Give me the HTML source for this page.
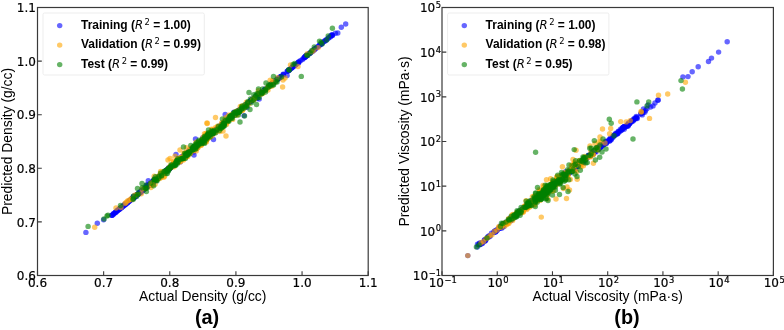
<!DOCTYPE html>
<html lang="en"><head><meta charset="utf-8"><title>Parity plots</title>
<style>html,body{margin:0;padding:0;background:#fff}svg{display:block}</style></head>
<body>
<svg width="784" height="330" viewBox="0 0 784 330">
<rect width="784" height="330" fill="#fff"/>
<g fill="#0000ff" fill-opacity="0.6"><circle cx="85.9" cy="232.4" r="2.72"/><circle cx="97.3" cy="223.2" r="2.72"/><circle cx="345.7" cy="24.0" r="2.72"/><circle cx="341.3" cy="27.2" r="2.72"/><circle cx="335.4" cy="33.2" r="2.72"/><circle cx="337.8" cy="33.0" r="2.72"/><circle cx="332.5" cy="35.5" r="2.72"/><circle cx="103.6" cy="219.7" r="2.72"/><circle cx="249.8" cy="101.7" r="2.72"/><circle cx="310.2" cy="52.8" r="2.72"/><circle cx="283.2" cy="74.2" r="2.72"/><circle cx="161.0" cy="175.4" r="2.72"/><circle cx="177.6" cy="161.3" r="2.72"/><circle cx="304.9" cy="57.2" r="2.72"/><circle cx="112.2" cy="215.2" r="2.72"/><circle cx="293.3" cy="66.6" r="2.72"/><circle cx="287.9" cy="71.1" r="2.72"/><circle cx="214.9" cy="130.5" r="2.72"/><circle cx="178.3" cy="161.3" r="2.72"/><circle cx="172.8" cy="165.3" r="2.72"/><circle cx="167.6" cy="169.9" r="2.72"/><circle cx="209.8" cy="134.6" r="2.72"/><circle cx="223.0" cy="124.0" r="2.72"/><circle cx="233.9" cy="112.1" r="2.72"/><circle cx="332.0" cy="34.9" r="2.72"/><circle cx="287.0" cy="71.4" r="2.72"/><circle cx="249.1" cy="102.3" r="2.72"/><circle cx="330.5" cy="36.2" r="2.72"/><circle cx="158.8" cy="177.1" r="2.72"/><circle cx="146.6" cy="184.9" r="2.72"/><circle cx="247.0" cy="107.2" r="2.72"/><circle cx="120.8" cy="208.0" r="2.72"/><circle cx="118.9" cy="209.3" r="2.72"/><circle cx="225.3" cy="121.7" r="2.72"/><circle cx="214.5" cy="130.6" r="2.72"/><circle cx="314.6" cy="49.1" r="2.72"/><circle cx="250.7" cy="101.0" r="2.72"/><circle cx="225.1" cy="122.1" r="2.72"/><circle cx="221.3" cy="125.1" r="2.72"/><circle cx="165.9" cy="171.2" r="2.72"/><circle cx="113.6" cy="214.3" r="2.72"/><circle cx="153.7" cy="181.3" r="2.72"/><circle cx="264.6" cy="89.7" r="2.72"/><circle cx="155.5" cy="180.0" r="2.72"/><circle cx="193.0" cy="148.5" r="2.72"/><circle cx="111.8" cy="215.2" r="2.72"/><circle cx="295.3" cy="64.7" r="2.72"/><circle cx="145.3" cy="187.7" r="2.72"/><circle cx="170.4" cy="167.3" r="2.72"/><circle cx="306.4" cy="55.8" r="2.72"/><circle cx="224.2" cy="123.0" r="2.72"/><circle cx="299.1" cy="61.8" r="2.72"/><circle cx="253.0" cy="99.1" r="2.72"/><circle cx="275.7" cy="80.7" r="2.72"/><circle cx="131.3" cy="199.5" r="2.72"/><circle cx="231.1" cy="117.1" r="2.72"/><circle cx="223.7" cy="123.0" r="2.72"/><circle cx="304.4" cy="57.4" r="2.72"/><circle cx="191.2" cy="150.0" r="2.72"/><circle cx="243.8" cy="106.8" r="2.72"/><circle cx="124.2" cy="205.2" r="2.72"/><circle cx="197.1" cy="145.1" r="2.72"/><circle cx="182.7" cy="157.0" r="2.72"/><circle cx="144.3" cy="189.1" r="2.72"/><circle cx="292.2" cy="67.4" r="2.72"/><circle cx="195.2" cy="146.9" r="2.72"/><circle cx="328.3" cy="37.9" r="2.72"/><circle cx="242.0" cy="108.0" r="2.72"/><circle cx="245.3" cy="105.5" r="2.72"/><circle cx="252.6" cy="99.5" r="2.72"/><circle cx="261.2" cy="92.6" r="2.72"/><circle cx="144.5" cy="188.8" r="2.72"/><circle cx="208.7" cy="135.7" r="2.72"/><circle cx="164.2" cy="172.6" r="2.72"/><circle cx="200.4" cy="142.3" r="2.72"/><circle cx="132.5" cy="198.1" r="2.72"/><circle cx="325.9" cy="40.0" r="2.72"/><circle cx="158.7" cy="176.8" r="2.72"/><circle cx="260.1" cy="93.8" r="2.72"/><circle cx="177.7" cy="161.3" r="2.72"/><circle cx="305.0" cy="56.8" r="2.72"/><circle cx="258.0" cy="95.0" r="2.72"/><circle cx="140.2" cy="192.3" r="2.72"/><circle cx="298.6" cy="62.7" r="2.72"/><circle cx="320.8" cy="44.4" r="2.72"/><circle cx="311.7" cy="51.7" r="2.72"/><circle cx="237.5" cy="111.7" r="2.72"/><circle cx="143.3" cy="189.9" r="2.72"/><circle cx="153.7" cy="181.3" r="2.72"/><circle cx="317.0" cy="47.3" r="2.72"/><circle cx="233.6" cy="114.9" r="2.72"/><circle cx="151.1" cy="183.4" r="2.72"/><circle cx="307.3" cy="55.1" r="2.72"/><circle cx="253.4" cy="99.4" r="2.72"/><circle cx="237.5" cy="111.8" r="2.72"/><circle cx="194.5" cy="147.6" r="2.72"/><circle cx="202.2" cy="141.1" r="2.72"/><circle cx="164.2" cy="172.8" r="2.72"/><circle cx="119.4" cy="209.0" r="2.72"/><circle cx="305.5" cy="56.2" r="2.72"/><circle cx="214.8" cy="130.2" r="2.72"/><circle cx="232.6" cy="115.9" r="2.72"/><circle cx="182.5" cy="157.3" r="2.72"/><circle cx="277.8" cy="79.1" r="2.72"/><circle cx="116.6" cy="211.8" r="2.72"/><circle cx="193.6" cy="152.1" r="2.72"/><circle cx="117.7" cy="210.6" r="2.72"/><circle cx="138.3" cy="193.9" r="2.72"/><circle cx="325.7" cy="40.5" r="2.72"/><circle cx="257.0" cy="96.1" r="2.72"/><circle cx="206.1" cy="138.0" r="2.72"/><circle cx="227.3" cy="120.4" r="2.72"/><circle cx="304.8" cy="57.5" r="2.72"/><circle cx="187.4" cy="153.4" r="2.72"/><circle cx="242.0" cy="107.9" r="2.72"/><circle cx="262.8" cy="91.2" r="2.72"/><circle cx="189.9" cy="151.4" r="2.72"/><circle cx="226.2" cy="121.1" r="2.72"/><circle cx="280.9" cy="76.6" r="2.72"/><circle cx="312.8" cy="51.1" r="2.72"/><circle cx="144.5" cy="188.6" r="2.72"/><circle cx="318.2" cy="46.5" r="2.72"/><circle cx="112.1" cy="215.3" r="2.72"/><circle cx="278.2" cy="78.3" r="2.72"/><circle cx="290.9" cy="68.6" r="2.72"/><circle cx="141.4" cy="191.4" r="2.72"/><circle cx="204.0" cy="139.7" r="2.72"/><circle cx="292.0" cy="67.4" r="2.72"/><circle cx="114.2" cy="213.4" r="2.72"/><circle cx="250.5" cy="101.5" r="2.72"/><circle cx="287.1" cy="75.6" r="2.72"/><circle cx="224.9" cy="122.3" r="2.72"/><circle cx="272.1" cy="83.3" r="2.72"/><circle cx="161.3" cy="175.3" r="2.72"/><circle cx="155.1" cy="180.0" r="2.72"/><circle cx="191.6" cy="151.5" r="2.72"/><circle cx="150.8" cy="184.0" r="2.72"/><circle cx="187.8" cy="153.4" r="2.72"/><circle cx="321.5" cy="43.7" r="2.72"/><circle cx="238.3" cy="111.1" r="2.72"/><circle cx="186.5" cy="154.1" r="2.72"/><circle cx="171.3" cy="167.1" r="2.72"/><circle cx="322.4" cy="43.1" r="2.72"/><circle cx="209.7" cy="134.8" r="2.72"/><circle cx="328.6" cy="38.0" r="2.72"/><circle cx="225.4" cy="121.6" r="2.72"/><circle cx="226.7" cy="120.3" r="2.72"/><circle cx="310.0" cy="53.2" r="2.72"/><circle cx="275.9" cy="80.1" r="2.72"/><circle cx="239.9" cy="110.0" r="2.72"/><circle cx="205.7" cy="138.1" r="2.72"/><circle cx="306.0" cy="56.3" r="2.72"/><circle cx="202.4" cy="140.7" r="2.72"/><circle cx="315.9" cy="48.3" r="2.72"/><circle cx="126.3" cy="203.6" r="2.72"/><circle cx="206.5" cy="137.5" r="2.72"/><circle cx="226.3" cy="120.9" r="2.72"/><circle cx="322.1" cy="43.1" r="2.72"/><circle cx="166.7" cy="170.5" r="2.72"/><circle cx="289.9" cy="69.1" r="2.72"/><circle cx="261.2" cy="92.3" r="2.72"/><circle cx="270.2" cy="85.4" r="2.72"/><circle cx="250.8" cy="101.1" r="2.72"/><circle cx="326.7" cy="39.6" r="2.72"/><circle cx="184.9" cy="155.6" r="2.72"/><circle cx="199.4" cy="143.5" r="2.72"/><circle cx="156.0" cy="179.4" r="2.72"/><circle cx="122.3" cy="206.7" r="2.72"/><circle cx="158.3" cy="177.7" r="2.72"/><circle cx="314.2" cy="49.5" r="2.72"/><circle cx="297.5" cy="63.2" r="2.72"/><circle cx="136.0" cy="195.2" r="2.72"/><circle cx="245.0" cy="105.6" r="2.72"/><circle cx="217.4" cy="128.3" r="2.72"/><circle cx="243.0" cy="107.5" r="2.72"/><circle cx="257.4" cy="95.8" r="2.72"/><circle cx="179.1" cy="160.2" r="2.72"/><circle cx="324.4" cy="41.4" r="2.72"/><circle cx="214.4" cy="130.9" r="2.72"/><circle cx="250.4" cy="101.0" r="2.72"/><circle cx="252.0" cy="100.1" r="2.72"/><circle cx="151.8" cy="183.0" r="2.72"/><circle cx="124.7" cy="204.8" r="2.72"/><circle cx="202.4" cy="141.0" r="2.72"/><circle cx="280.6" cy="76.7" r="2.72"/><circle cx="292.0" cy="67.6" r="2.72"/><circle cx="273.1" cy="83.1" r="2.72"/><circle cx="136.1" cy="196.0" r="2.72"/><circle cx="313.8" cy="49.9" r="2.72"/><circle cx="289.1" cy="70.1" r="2.72"/><circle cx="305.8" cy="56.3" r="2.72"/><circle cx="227.2" cy="120.6" r="2.72"/><circle cx="314.3" cy="49.7" r="2.72"/><circle cx="121.4" cy="207.5" r="2.72"/><circle cx="117.7" cy="210.3" r="2.72"/><circle cx="115.5" cy="212.1" r="2.72"/><circle cx="167.1" cy="169.9" r="2.72"/><circle cx="166.2" cy="171.0" r="2.72"/><circle cx="152.6" cy="182.0" r="2.72"/><circle cx="236.9" cy="112.2" r="2.72"/><circle cx="119.7" cy="209.0" r="2.72"/><circle cx="242.1" cy="108.1" r="2.72"/><circle cx="147.9" cy="186.2" r="2.72"/><circle cx="261.5" cy="92.1" r="2.72"/><circle cx="115.7" cy="212.2" r="2.72"/><circle cx="179.9" cy="159.7" r="2.72"/><circle cx="319.3" cy="45.5" r="2.72"/><circle cx="230.5" cy="117.1" r="2.72"/><circle cx="291.2" cy="68.5" r="2.72"/><circle cx="257.1" cy="98.5" r="2.72"/><circle cx="246.6" cy="104.1" r="2.72"/><circle cx="153.5" cy="181.8" r="2.72"/><circle cx="238.5" cy="110.6" r="2.72"/><circle cx="119.8" cy="208.9" r="2.72"/><circle cx="289.0" cy="70.0" r="2.72"/><circle cx="324.1" cy="41.3" r="2.72"/><circle cx="300.6" cy="60.4" r="2.72"/><circle cx="122.3" cy="206.7" r="2.72"/><circle cx="186.2" cy="154.4" r="2.72"/><circle cx="181.6" cy="158.2" r="2.72"/><circle cx="136.0" cy="195.7" r="2.72"/><circle cx="250.1" cy="101.2" r="2.72"/><circle cx="288.0" cy="70.7" r="2.72"/><circle cx="180.6" cy="158.7" r="2.72"/><circle cx="302.5" cy="59.5" r="2.72"/><circle cx="288.0" cy="70.9" r="2.72"/><circle cx="139.7" cy="192.7" r="2.72"/><circle cx="281.2" cy="76.4" r="2.72"/><circle cx="306.9" cy="55.0" r="2.72"/><circle cx="154.8" cy="180.7" r="2.72"/><circle cx="238.3" cy="110.9" r="2.72"/><circle cx="252.8" cy="99.2" r="2.72"/><circle cx="246.3" cy="104.8" r="2.72"/><circle cx="132.4" cy="198.5" r="2.72"/><circle cx="257.8" cy="95.2" r="2.72"/><circle cx="251.3" cy="100.0" r="2.72"/><circle cx="293.9" cy="65.7" r="2.72"/><circle cx="289.4" cy="69.7" r="2.72"/><circle cx="183.6" cy="156.3" r="2.72"/><circle cx="271.3" cy="84.3" r="2.72"/><circle cx="303.5" cy="58.3" r="2.72"/><circle cx="309.2" cy="53.5" r="2.72"/><circle cx="146.9" cy="186.8" r="2.72"/><circle cx="116.9" cy="210.8" r="2.72"/><circle cx="255.5" cy="97.4" r="2.72"/><circle cx="158.7" cy="177.5" r="2.72"/><circle cx="236.1" cy="113.0" r="2.72"/><circle cx="320.7" cy="44.1" r="2.72"/><circle cx="195.2" cy="146.6" r="2.72"/><circle cx="167.1" cy="170.2" r="2.72"/><circle cx="212.3" cy="132.6" r="2.72"/><circle cx="256.9" cy="96.0" r="2.72"/><circle cx="133.4" cy="198.1" r="2.72"/><circle cx="195.5" cy="146.8" r="2.72"/><circle cx="140.7" cy="191.7" r="2.72"/><circle cx="258.1" cy="94.9" r="2.72"/><circle cx="295.4" cy="64.6" r="2.72"/><circle cx="194.7" cy="146.2" r="2.72"/><circle cx="193.5" cy="148.7" r="2.72"/><circle cx="230.8" cy="117.2" r="2.72"/><circle cx="158.7" cy="177.1" r="2.72"/><circle cx="165.9" cy="171.4" r="2.72"/><circle cx="184.2" cy="155.6" r="2.72"/><circle cx="212.5" cy="132.5" r="2.72"/><circle cx="129.1" cy="201.1" r="2.72"/><circle cx="278.1" cy="78.7" r="2.72"/><circle cx="239.6" cy="109.9" r="2.72"/><circle cx="177.5" cy="161.3" r="2.72"/><circle cx="128.2" cy="202.0" r="2.72"/><circle cx="280.4" cy="76.8" r="2.72"/><circle cx="140.1" cy="192.3" r="2.72"/><circle cx="140.6" cy="192.2" r="2.72"/><circle cx="140.0" cy="192.6" r="2.72"/><circle cx="129.0" cy="201.6" r="2.72"/><circle cx="312.2" cy="51.5" r="2.72"/><circle cx="170.8" cy="167.5" r="2.72"/><circle cx="179.0" cy="160.2" r="2.72"/><circle cx="295.9" cy="64.7" r="2.72"/><circle cx="248.6" cy="102.5" r="2.72"/><circle cx="152.5" cy="182.3" r="2.72"/><circle cx="207.5" cy="136.7" r="2.72"/><circle cx="307.2" cy="55.5" r="2.72"/><circle cx="194.3" cy="147.5" r="2.72"/><circle cx="268.8" cy="86.5" r="2.72"/><circle cx="132.5" cy="198.4" r="2.72"/><circle cx="272.5" cy="83.3" r="2.72"/><circle cx="283.4" cy="74.9" r="2.72"/><circle cx="294.3" cy="65.6" r="2.72"/><circle cx="260.7" cy="93.4" r="2.72"/><circle cx="193.3" cy="148.3" r="2.72"/><circle cx="125.3" cy="204.8" r="2.72"/><circle cx="226.2" cy="121.3" r="2.72"/><circle cx="279.2" cy="77.7" r="2.72"/><circle cx="153.4" cy="181.6" r="2.72"/><circle cx="170.1" cy="167.6" r="2.72"/><circle cx="230.0" cy="118.4" r="2.72"/><circle cx="277.1" cy="79.5" r="2.72"/><circle cx="310.0" cy="53.1" r="2.72"/><circle cx="138.9" cy="193.0" r="2.72"/><circle cx="151.9" cy="182.8" r="2.72"/><circle cx="288.5" cy="70.4" r="2.72"/><circle cx="254.1" cy="98.6" r="2.72"/><circle cx="271.1" cy="84.7" r="2.72"/><circle cx="332.3" cy="34.9" r="2.72"/><circle cx="319.5" cy="45.0" r="2.72"/><circle cx="298.2" cy="62.3" r="2.72"/><circle cx="283.5" cy="74.5" r="2.72"/><circle cx="198.7" cy="144.2" r="2.72"/><circle cx="253.4" cy="99.1" r="2.72"/><circle cx="151.9" cy="182.4" r="2.72"/><circle cx="279.6" cy="77.6" r="2.72"/><circle cx="279.2" cy="78.1" r="2.72"/><circle cx="271.1" cy="84.2" r="2.72"/><circle cx="209.7" cy="134.7" r="2.72"/><circle cx="195.0" cy="146.9" r="2.72"/><circle cx="204.2" cy="139.2" r="2.72"/><circle cx="118.4" cy="209.9" r="2.72"/><circle cx="298.4" cy="62.5" r="2.72"/><circle cx="231.4" cy="117.1" r="2.72"/><circle cx="197.0" cy="147.9" r="2.72"/><circle cx="232.7" cy="115.9" r="2.72"/><circle cx="271.2" cy="84.3" r="2.72"/><circle cx="195.7" cy="146.6" r="2.72"/><circle cx="295.4" cy="64.6" r="2.72"/><circle cx="315.1" cy="48.6" r="2.72"/><circle cx="197.0" cy="145.0" r="2.72"/><circle cx="141.6" cy="190.8" r="2.72"/><circle cx="279.8" cy="78.0" r="2.72"/><circle cx="331.4" cy="35.3" r="2.72"/><circle cx="143.9" cy="189.3" r="2.72"/><circle cx="269.2" cy="86.0" r="2.72"/><circle cx="294.2" cy="65.9" r="2.72"/><circle cx="315.4" cy="48.6" r="2.72"/><circle cx="138.4" cy="193.7" r="2.72"/><circle cx="131.4" cy="199.6" r="2.72"/><circle cx="330.3" cy="36.9" r="2.72"/><circle cx="136.9" cy="194.7" r="2.72"/><circle cx="150.3" cy="184.0" r="2.72"/><circle cx="170.1" cy="167.9" r="2.72"/><circle cx="196.3" cy="146.0" r="2.72"/><circle cx="189.9" cy="151.1" r="2.72"/><circle cx="157.1" cy="178.6" r="2.72"/><circle cx="205.2" cy="138.4" r="2.72"/><circle cx="256.7" cy="96.0" r="2.72"/><circle cx="181.5" cy="156.7" r="2.72"/><circle cx="183.3" cy="156.8" r="2.72"/><circle cx="155.4" cy="180.1" r="2.72"/><circle cx="200.6" cy="142.5" r="2.72"/><circle cx="148.8" cy="185.2" r="2.72"/><circle cx="153.4" cy="181.6" r="2.72"/><circle cx="232.3" cy="115.7" r="2.72"/><circle cx="160.1" cy="175.7" r="2.72"/><circle cx="225.8" cy="121.1" r="2.72"/><circle cx="240.4" cy="109.2" r="2.72"/><circle cx="198.6" cy="144.3" r="2.72"/><circle cx="208.3" cy="135.6" r="2.72"/><circle cx="254.6" cy="97.7" r="2.72"/><circle cx="183.5" cy="157.8" r="2.72"/><circle cx="170.4" cy="167.6" r="2.72"/><circle cx="145.2" cy="188.3" r="2.72"/><circle cx="191.4" cy="150.0" r="2.72"/><circle cx="238.9" cy="110.9" r="2.72"/><circle cx="221.7" cy="124.6" r="2.72"/><circle cx="158.8" cy="177.1" r="2.72"/><circle cx="161.7" cy="174.6" r="2.72"/><circle cx="173.3" cy="165.4" r="2.72"/><circle cx="199.7" cy="142.5" r="2.72"/><circle cx="183.2" cy="156.6" r="2.72"/><circle cx="197.1" cy="145.3" r="2.72"/><circle cx="199.8" cy="143.2" r="2.72"/><circle cx="180.1" cy="159.1" r="2.72"/><circle cx="188.7" cy="152.3" r="2.72"/><circle cx="196.8" cy="145.6" r="2.72"/><circle cx="187.2" cy="153.7" r="2.72"/><circle cx="206.7" cy="137.6" r="2.72"/><circle cx="251.9" cy="100.1" r="2.72"/><circle cx="209.6" cy="134.9" r="2.72"/><circle cx="191.8" cy="149.7" r="2.72"/><circle cx="134.2" cy="197.3" r="2.72"/><circle cx="202.8" cy="137.8" r="2.72"/><circle cx="125.6" cy="203.8" r="2.72"/><circle cx="143.4" cy="189.9" r="2.72"/><circle cx="218.3" cy="127.4" r="2.72"/><circle cx="213.4" cy="131.8" r="2.72"/><circle cx="185.0" cy="155.3" r="2.72"/><circle cx="133.4" cy="197.3" r="2.72"/><circle cx="177.7" cy="161.0" r="2.72"/><circle cx="167.6" cy="169.9" r="2.72"/><circle cx="211.1" cy="133.5" r="2.72"/><circle cx="264.7" cy="89.8" r="2.72"/><circle cx="197.2" cy="145.5" r="2.72"/><circle cx="164.2" cy="172.4" r="2.72"/><circle cx="151.3" cy="183.2" r="2.72"/><circle cx="188.1" cy="152.6" r="2.72"/><circle cx="184.2" cy="155.6" r="2.72"/><circle cx="151.9" cy="182.8" r="2.72"/><circle cx="193.8" cy="147.9" r="2.72"/><circle cx="151.9" cy="182.7" r="2.72"/><circle cx="226.8" cy="121.0" r="2.72"/><circle cx="225.1" cy="122.0" r="2.72"/><circle cx="225.9" cy="121.7" r="2.72"/><circle cx="174.3" cy="164.2" r="2.72"/><circle cx="207.0" cy="139.1" r="2.72"/><circle cx="185.6" cy="155.0" r="2.72"/><circle cx="177.1" cy="161.6" r="2.72"/><circle cx="178.8" cy="160.6" r="2.72"/><circle cx="147.0" cy="186.8" r="2.72"/><circle cx="142.3" cy="190.6" r="2.72"/><circle cx="216.3" cy="129.8" r="2.72"/><circle cx="183.7" cy="156.6" r="2.72"/><circle cx="197.2" cy="145.4" r="2.72"/><circle cx="223.1" cy="123.6" r="2.72"/><circle cx="132.7" cy="198.3" r="2.72"/><circle cx="164.1" cy="172.9" r="2.72"/><circle cx="195.8" cy="146.0" r="2.72"/><circle cx="203.0" cy="141.6" r="2.72"/><circle cx="177.5" cy="161.7" r="2.72"/><circle cx="224.0" cy="122.8" r="2.72"/><circle cx="197.0" cy="145.5" r="2.72"/><circle cx="149.9" cy="184.2" r="2.72"/><circle cx="159.2" cy="176.7" r="2.72"/><circle cx="216.6" cy="129.2" r="2.72"/><circle cx="205.3" cy="138.0" r="2.72"/><circle cx="127.2" cy="202.9" r="2.72"/><circle cx="234.6" cy="114.2" r="2.72"/><circle cx="209.8" cy="134.7" r="2.72"/><circle cx="234.4" cy="114.2" r="2.72"/><circle cx="177.3" cy="161.6" r="2.72"/><circle cx="180.2" cy="161.9" r="2.72"/><circle cx="152.7" cy="182.1" r="2.72"/><circle cx="273.9" cy="82.7" r="2.72"/><circle cx="184.2" cy="156.1" r="2.72"/><circle cx="242.5" cy="107.7" r="2.72"/><circle cx="168.6" cy="168.9" r="2.72"/><circle cx="195.4" cy="146.8" r="2.72"/><circle cx="134.7" cy="196.7" r="2.72"/><circle cx="177.3" cy="161.8" r="2.72"/><circle cx="222.5" cy="124.1" r="2.72"/><circle cx="148.6" cy="185.7" r="2.72"/><circle cx="225.5" cy="121.5" r="2.72"/><circle cx="201.2" cy="141.7" r="2.72"/><circle cx="155.5" cy="180.2" r="2.72"/><circle cx="173.4" cy="165.0" r="2.72"/><circle cx="174.8" cy="163.9" r="2.72"/><circle cx="188.4" cy="152.9" r="2.72"/><circle cx="172.3" cy="166.2" r="2.72"/><circle cx="162.6" cy="174.0" r="2.72"/><circle cx="179.9" cy="159.8" r="2.72"/><circle cx="156.0" cy="179.4" r="2.72"/><circle cx="147.4" cy="186.4" r="2.72"/><circle cx="188.4" cy="152.6" r="2.72"/><circle cx="219.2" cy="126.8" r="2.72"/><circle cx="139.4" cy="192.7" r="2.72"/><circle cx="190.1" cy="151.2" r="2.72"/><circle cx="168.5" cy="168.8" r="2.72"/><circle cx="157.7" cy="177.8" r="2.72"/><circle cx="218.2" cy="127.5" r="2.72"/><circle cx="172.9" cy="165.4" r="2.72"/><circle cx="239.5" cy="110.0" r="2.72"/><circle cx="164.2" cy="172.8" r="2.72"/><circle cx="202.8" cy="140.4" r="2.72"/><circle cx="182.5" cy="157.3" r="2.72"/><circle cx="165.1" cy="171.8" r="2.72"/><circle cx="209.4" cy="135.0" r="2.72"/><circle cx="184.9" cy="156.8" r="2.72"/><circle cx="209.9" cy="135.1" r="2.72"/><circle cx="188.4" cy="152.6" r="2.72"/><circle cx="154.1" cy="181.4" r="2.72"/><circle cx="186.6" cy="154.0" r="2.72"/><circle cx="191.7" cy="149.9" r="2.72"/><circle cx="221.7" cy="124.4" r="2.72"/><circle cx="160.0" cy="176.2" r="2.72"/><circle cx="188.7" cy="152.4" r="2.72"/><circle cx="133.1" cy="197.7" r="2.72"/><circle cx="211.5" cy="133.6" r="2.72"/><circle cx="154.2" cy="180.7" r="2.72"/><circle cx="130.3" cy="200.1" r="2.72"/><circle cx="188.0" cy="152.8" r="2.72"/><circle cx="226.6" cy="121.1" r="2.72"/><circle cx="139.6" cy="192.9" r="2.72"/><circle cx="154.0" cy="181.0" r="2.72"/><circle cx="165.4" cy="171.4" r="2.72"/><circle cx="152.6" cy="182.1" r="2.72"/><circle cx="202.5" cy="140.7" r="2.72"/><circle cx="163.3" cy="173.4" r="2.72"/><circle cx="166.1" cy="170.8" r="2.72"/><circle cx="209.3" cy="135.3" r="2.72"/><circle cx="165.0" cy="172.1" r="2.72"/><circle cx="204.3" cy="139.2" r="2.72"/><circle cx="157.9" cy="177.7" r="2.72"/><circle cx="149.9" cy="184.3" r="2.72"/><circle cx="129.3" cy="201.0" r="2.72"/><circle cx="251.5" cy="100.4" r="2.72"/><circle cx="179.4" cy="159.8" r="2.72"/><circle cx="198.1" cy="144.9" r="2.72"/><circle cx="189.0" cy="152.2" r="2.72"/><circle cx="195.3" cy="147.0" r="2.72"/><circle cx="191.6" cy="150.0" r="2.72"/><circle cx="253.1" cy="99.0" r="2.72"/><circle cx="155.6" cy="179.6" r="2.72"/><circle cx="138.5" cy="193.9" r="2.72"/><circle cx="156.5" cy="179.0" r="2.72"/><circle cx="145.9" cy="187.3" r="2.72"/><circle cx="214.7" cy="130.6" r="2.72"/><circle cx="217.1" cy="128.3" r="2.72"/><circle cx="158.2" cy="177.4" r="2.72"/><circle cx="144.0" cy="189.0" r="2.72"/><circle cx="178.3" cy="161.0" r="2.72"/><circle cx="236.0" cy="112.9" r="2.72"/><circle cx="207.4" cy="136.2" r="2.72"/><circle cx="154.4" cy="180.9" r="2.72"/><circle cx="224.4" cy="122.8" r="2.72"/><circle cx="154.4" cy="178.6" r="2.72"/><circle cx="180.6" cy="159.1" r="2.72"/><circle cx="140.2" cy="192.3" r="2.72"/><circle cx="157.7" cy="177.9" r="2.72"/><circle cx="235.8" cy="113.2" r="2.72"/><circle cx="217.1" cy="128.7" r="2.72"/><circle cx="176.7" cy="162.4" r="2.72"/><circle cx="161.2" cy="175.1" r="2.72"/><circle cx="127.4" cy="202.9" r="2.72"/><circle cx="177.0" cy="161.9" r="2.72"/><circle cx="189.0" cy="152.0" r="2.72"/><circle cx="187.2" cy="153.3" r="2.72"/><circle cx="186.9" cy="153.8" r="2.72"/><circle cx="152.9" cy="181.8" r="2.72"/><circle cx="187.8" cy="152.8" r="2.72"/><circle cx="188.7" cy="152.0" r="2.72"/><circle cx="232.7" cy="115.5" r="2.72"/><circle cx="251.7" cy="100.1" r="2.72"/><circle cx="185.5" cy="154.9" r="2.72"/><circle cx="164.7" cy="172.3" r="2.72"/><circle cx="187.9" cy="153.0" r="2.72"/><circle cx="169.9" cy="167.9" r="2.72"/><circle cx="165.4" cy="171.2" r="2.72"/><circle cx="188.1" cy="153.0" r="2.72"/><circle cx="155.5" cy="179.9" r="2.72"/><circle cx="210.0" cy="134.5" r="2.72"/><circle cx="186.6" cy="154.2" r="2.72"/><circle cx="198.3" cy="144.2" r="2.72"/><circle cx="184.0" cy="156.3" r="2.72"/><circle cx="165.9" cy="171.1" r="2.72"/><circle cx="158.7" cy="177.2" r="2.72"/><circle cx="182.2" cy="158.1" r="2.72"/><circle cx="171.9" cy="166.1" r="2.72"/><circle cx="197.7" cy="145.0" r="2.72"/><circle cx="189.9" cy="151.2" r="2.72"/><circle cx="144.9" cy="188.1" r="2.72"/><circle cx="192.2" cy="149.2" r="2.72"/><circle cx="145.6" cy="187.9" r="2.72"/><circle cx="169.6" cy="168.1" r="2.72"/><circle cx="180.3" cy="159.2" r="2.72"/><circle cx="121.4" cy="207.6" r="2.72"/><circle cx="193.0" cy="148.8" r="2.72"/><circle cx="195.0" cy="147.0" r="2.72"/><circle cx="184.8" cy="155.5" r="2.72"/><circle cx="176.0" cy="162.4" r="2.72"/><circle cx="177.6" cy="161.3" r="2.72"/><circle cx="157.7" cy="177.6" r="2.72"/><circle cx="181.1" cy="158.6" r="2.72"/><circle cx="171.7" cy="166.3" r="2.72"/><circle cx="193.0" cy="148.6" r="2.72"/><circle cx="150.2" cy="184.4" r="2.72"/><circle cx="197.8" cy="144.9" r="2.72"/><circle cx="194.7" cy="147.3" r="2.72"/><circle cx="185.3" cy="154.9" r="2.72"/><circle cx="175.5" cy="163.4" r="2.72"/><circle cx="208.3" cy="136.3" r="2.72"/><circle cx="135.0" cy="196.5" r="2.72"/><circle cx="205.2" cy="138.6" r="2.72"/><circle cx="198.0" cy="144.6" r="2.72"/><circle cx="199.4" cy="143.1" r="2.72"/><circle cx="202.7" cy="140.6" r="2.72"/><circle cx="168.4" cy="169.0" r="2.72"/><circle cx="181.4" cy="158.3" r="2.72"/><circle cx="211.1" cy="133.5" r="2.72"/><circle cx="204.2" cy="139.6" r="2.72"/><circle cx="196.8" cy="145.5" r="2.72"/><circle cx="139.9" cy="192.4" r="2.72"/><circle cx="207.8" cy="136.4" r="2.72"/><circle cx="228.7" cy="118.8" r="2.72"/><circle cx="223.4" cy="123.6" r="2.72"/><circle cx="197.7" cy="144.4" r="2.72"/><circle cx="138.5" cy="193.9" r="2.72"/><circle cx="221.2" cy="125.4" r="2.72"/><circle cx="185.1" cy="155.2" r="2.72"/><circle cx="202.5" cy="141.0" r="2.72"/><circle cx="140.7" cy="192.0" r="2.72"/><circle cx="147.1" cy="185.5" r="2.72"/><circle cx="169.0" cy="168.7" r="2.72"/><circle cx="232.1" cy="116.4" r="2.72"/><circle cx="177.7" cy="161.2" r="2.72"/><circle cx="199.0" cy="143.7" r="2.72"/><circle cx="247.8" cy="103.3" r="2.72"/><circle cx="242.7" cy="107.2" r="2.72"/><circle cx="186.6" cy="154.0" r="2.72"/><circle cx="182.0" cy="157.7" r="2.72"/><circle cx="148.3" cy="180.8" r="2.72"/><circle cx="167.0" cy="170.7" r="2.72"/><circle cx="204.1" cy="139.4" r="2.72"/><circle cx="203.1" cy="140.5" r="2.72"/><circle cx="193.6" cy="147.5" r="2.72"/><circle cx="222.9" cy="124.0" r="2.72"/><circle cx="164.5" cy="172.5" r="2.72"/><circle cx="188.1" cy="153.0" r="2.72"/><circle cx="214.2" cy="130.9" r="2.72"/><circle cx="209.3" cy="135.1" r="2.72"/><circle cx="225.4" cy="122.4" r="2.72"/><circle cx="203.1" cy="140.5" r="2.72"/><circle cx="179.8" cy="159.4" r="2.72"/><circle cx="202.0" cy="141.6" r="2.72"/><circle cx="156.8" cy="178.5" r="2.72"/><circle cx="135.8" cy="195.8" r="2.72"/><circle cx="209.2" cy="135.3" r="2.72"/><circle cx="188.2" cy="152.7" r="2.72"/><circle cx="200.2" cy="143.0" r="2.72"/><circle cx="133.9" cy="197.1" r="2.72"/><circle cx="177.9" cy="161.5" r="2.72"/><circle cx="170.2" cy="167.8" r="2.72"/><circle cx="161.4" cy="174.7" r="2.72"/><circle cx="115.4" cy="212.4" r="2.72"/><circle cx="178.9" cy="160.3" r="2.72"/><circle cx="219.7" cy="126.5" r="2.72"/><circle cx="202.6" cy="142.1" r="2.72"/><circle cx="170.1" cy="167.8" r="2.72"/><circle cx="189.5" cy="151.2" r="2.72"/><circle cx="215.0" cy="130.2" r="2.72"/><circle cx="185.9" cy="154.5" r="2.72"/><circle cx="208.0" cy="136.2" r="2.72"/><circle cx="212.6" cy="134.1" r="2.72"/><circle cx="246.2" cy="104.9" r="2.72"/><circle cx="227.5" cy="119.9" r="2.72"/><circle cx="200.3" cy="142.7" r="2.72"/><circle cx="200.0" cy="142.9" r="2.72"/><circle cx="216.0" cy="129.8" r="2.72"/><circle cx="172.2" cy="166.3" r="2.72"/><circle cx="188.7" cy="152.3" r="2.72"/><circle cx="220.0" cy="126.5" r="2.72"/><circle cx="254.7" cy="97.4" r="2.72"/><circle cx="184.7" cy="155.2" r="2.72"/><circle cx="188.4" cy="152.6" r="2.72"/><circle cx="196.6" cy="145.5" r="2.72"/><circle cx="234.4" cy="114.4" r="2.72"/><circle cx="189.0" cy="150.1" r="2.72"/><circle cx="238.6" cy="110.4" r="2.72"/><circle cx="158.0" cy="177.6" r="2.72"/><circle cx="183.8" cy="155.9" r="2.72"/><circle cx="183.4" cy="157.0" r="2.72"/><circle cx="216.0" cy="129.6" r="2.72"/><circle cx="224.6" cy="122.5" r="2.72"/><circle cx="140.1" cy="192.2" r="2.72"/><circle cx="159.7" cy="176.3" r="2.72"/><circle cx="201.1" cy="141.8" r="2.72"/><circle cx="168.2" cy="169.2" r="2.72"/><circle cx="139.7" cy="192.9" r="2.72"/><circle cx="224.3" cy="122.9" r="2.72"/><circle cx="206.3" cy="137.4" r="2.72"/><circle cx="206.3" cy="137.8" r="2.72"/><circle cx="174.3" cy="164.1" r="2.72"/><circle cx="224.0" cy="122.8" r="2.72"/><circle cx="182.1" cy="157.9" r="2.72"/><circle cx="226.3" cy="121.3" r="2.72"/><circle cx="159.9" cy="176.2" r="2.72"/><circle cx="161.8" cy="174.4" r="2.72"/><circle cx="196.8" cy="146.1" r="2.72"/><circle cx="166.8" cy="170.7" r="2.72"/><circle cx="212.3" cy="132.1" r="2.72"/><circle cx="198.6" cy="144.0" r="2.72"/><circle cx="159.5" cy="176.5" r="2.72"/><circle cx="192.4" cy="148.9" r="2.72"/><circle cx="178.4" cy="160.5" r="2.72"/><circle cx="220.3" cy="125.9" r="2.72"/><circle cx="169.1" cy="168.4" r="2.72"/><circle cx="175.5" cy="163.4" r="2.72"/><circle cx="230.1" cy="117.9" r="2.72"/><circle cx="264.0" cy="90.5" r="2.72"/><circle cx="256.1" cy="96.5" r="2.72"/><circle cx="192.1" cy="149.3" r="2.72"/><circle cx="197.2" cy="145.0" r="2.72"/><circle cx="240.7" cy="109.0" r="2.72"/><circle cx="185.9" cy="155.0" r="2.72"/><circle cx="157.7" cy="178.5" r="2.72"/><circle cx="193.9" cy="148.1" r="2.72"/><circle cx="204.9" cy="138.8" r="2.72"/><circle cx="162.6" cy="173.8" r="2.72"/><circle cx="135.6" cy="195.7" r="2.72"/><circle cx="142.5" cy="190.5" r="2.72"/><circle cx="212.0" cy="133.0" r="2.72"/><circle cx="164.9" cy="172.1" r="2.72"/><circle cx="185.3" cy="155.1" r="2.72"/><circle cx="197.0" cy="145.4" r="2.72"/><circle cx="210.5" cy="134.1" r="2.72"/><circle cx="178.9" cy="160.2" r="2.72"/><circle cx="206.5" cy="137.8" r="2.72"/><circle cx="160.6" cy="176.0" r="2.72"/><circle cx="178.0" cy="161.3" r="2.72"/><circle cx="156.1" cy="180.4" r="2.72"/><circle cx="227.4" cy="119.8" r="2.72"/><circle cx="189.1" cy="152.0" r="2.72"/><circle cx="165.6" cy="171.3" r="2.72"/><circle cx="178.3" cy="161.1" r="2.72"/><circle cx="182.7" cy="157.5" r="2.72"/><circle cx="213.2" cy="131.4" r="2.72"/><circle cx="137.2" cy="194.5" r="2.72"/><circle cx="155.7" cy="179.9" r="2.72"/><circle cx="177.5" cy="161.6" r="2.72"/><circle cx="273.7" cy="82.0" r="2.72"/><circle cx="221.6" cy="124.8" r="2.72"/><circle cx="186.3" cy="154.3" r="2.72"/><circle cx="213.5" cy="131.4" r="2.72"/><circle cx="258.0" cy="95.0" r="2.72"/><circle cx="182.3" cy="158.0" r="2.72"/><circle cx="177.9" cy="160.8" r="2.72"/><circle cx="230.1" cy="117.7" r="2.72"/><circle cx="206.3" cy="137.6" r="2.72"/><circle cx="212.2" cy="132.8" r="2.72"/><circle cx="173.2" cy="165.3" r="2.72"/><circle cx="253.6" cy="99.0" r="2.72"/><circle cx="246.5" cy="104.4" r="2.72"/><circle cx="208.7" cy="135.7" r="2.72"/><circle cx="212.6" cy="132.6" r="2.72"/><circle cx="123.0" cy="206.4" r="2.72"/><circle cx="211.1" cy="133.2" r="2.72"/><circle cx="183.6" cy="156.6" r="2.72"/><circle cx="204.3" cy="139.0" r="2.72"/><circle cx="212.6" cy="132.1" r="2.72"/><circle cx="178.7" cy="160.5" r="2.72"/><circle cx="134.1" cy="197.1" r="2.72"/><circle cx="202.2" cy="141.3" r="2.72"/><circle cx="165.5" cy="171.6" r="2.72"/><circle cx="179.1" cy="160.0" r="2.72"/><circle cx="170.0" cy="168.0" r="2.72"/><circle cx="178.7" cy="160.7" r="2.72"/><circle cx="113.6" cy="213.4" r="2.72"/><circle cx="230.2" cy="117.5" r="2.72"/><circle cx="198.4" cy="144.2" r="2.72"/><circle cx="226.8" cy="120.8" r="2.72"/><circle cx="255.5" cy="97.1" r="2.72"/><circle cx="190.7" cy="150.7" r="2.72"/><circle cx="130.4" cy="200.3" r="2.72"/><circle cx="160.4" cy="175.7" r="2.72"/><circle cx="150.1" cy="184.2" r="2.72"/><circle cx="173.4" cy="165.1" r="2.72"/><circle cx="192.6" cy="148.8" r="2.72"/><circle cx="123.8" cy="205.3" r="2.72"/><circle cx="201.3" cy="141.8" r="2.72"/><circle cx="140.1" cy="192.4" r="2.72"/><circle cx="199.8" cy="143.1" r="2.72"/><circle cx="186.4" cy="154.1" r="2.72"/><circle cx="179.6" cy="159.5" r="2.72"/><circle cx="187.6" cy="153.3" r="2.72"/><circle cx="172.1" cy="166.1" r="2.72"/><circle cx="169.7" cy="168.0" r="2.72"/><circle cx="134.4" cy="197.7" r="2.72"/><circle cx="189.0" cy="151.9" r="2.72"/><circle cx="251.0" cy="100.7" r="2.72"/><circle cx="255.5" cy="97.9" r="2.72"/><circle cx="233.7" cy="115.2" r="2.72"/><circle cx="213.3" cy="131.5" r="2.72"/><circle cx="167.6" cy="169.8" r="2.72"/><circle cx="237.7" cy="111.6" r="2.72"/><circle cx="188.1" cy="152.8" r="2.72"/><circle cx="187.7" cy="152.8" r="2.72"/><circle cx="180.4" cy="159.0" r="2.72"/><circle cx="193.0" cy="148.5" r="2.72"/><circle cx="175.6" cy="163.0" r="2.72"/><circle cx="187.2" cy="153.4" r="2.72"/><circle cx="154.1" cy="181.1" r="2.72"/><circle cx="177.6" cy="161.5" r="2.72"/><circle cx="265.4" cy="88.8" r="2.72"/><circle cx="187.7" cy="153.0" r="2.72"/><circle cx="182.1" cy="157.2" r="2.72"/><circle cx="207.6" cy="136.4" r="2.72"/><circle cx="213.4" cy="132.0" r="2.72"/><circle cx="153.2" cy="181.0" r="2.72"/><circle cx="183.1" cy="156.9" r="2.72"/><circle cx="220.4" cy="126.2" r="2.72"/><circle cx="198.9" cy="144.0" r="2.72"/><circle cx="194.0" cy="147.6" r="2.72"/><circle cx="241.4" cy="108.4" r="2.72"/><circle cx="167.6" cy="170.0" r="2.72"/><circle cx="192.7" cy="149.0" r="2.72"/><circle cx="172.8" cy="165.5" r="2.72"/><circle cx="239.3" cy="110.2" r="2.72"/><circle cx="125.5" cy="204.2" r="2.72"/><circle cx="167.8" cy="169.3" r="2.72"/><circle cx="172.5" cy="165.8" r="2.72"/><circle cx="211.9" cy="132.6" r="2.72"/><circle cx="210.0" cy="134.3" r="2.72"/><circle cx="236.1" cy="112.8" r="2.72"/><circle cx="137.9" cy="194.1" r="2.72"/><circle cx="214.8" cy="130.4" r="2.72"/><circle cx="180.3" cy="159.0" r="2.72"/><circle cx="168.0" cy="169.5" r="2.72"/><circle cx="207.8" cy="136.4" r="2.72"/><circle cx="159.6" cy="176.5" r="2.72"/><circle cx="121.3" cy="207.7" r="2.72"/><circle cx="177.8" cy="161.2" r="2.72"/><circle cx="140.5" cy="191.9" r="2.72"/><circle cx="168.5" cy="169.3" r="2.72"/><circle cx="202.3" cy="141.1" r="2.72"/><circle cx="200.3" cy="142.8" r="2.72"/><circle cx="242.5" cy="107.7" r="2.72"/><circle cx="183.4" cy="156.7" r="2.72"/><circle cx="139.3" cy="193.2" r="2.72"/><circle cx="165.0" cy="171.8" r="2.72"/><circle cx="159.6" cy="176.5" r="2.72"/><circle cx="149.7" cy="184.5" r="2.72"/><circle cx="204.4" cy="139.2" r="2.72"/><circle cx="168.7" cy="167.8" r="2.72"/><circle cx="124.6" cy="204.8" r="2.72"/><circle cx="213.0" cy="132.6" r="2.72"/><circle cx="186.3" cy="154.1" r="2.72"/><circle cx="201.8" cy="141.3" r="2.72"/><circle cx="193.5" cy="148.0" r="2.72"/><circle cx="210.9" cy="134.0" r="2.72"/><circle cx="191.3" cy="150.1" r="2.72"/><circle cx="230.9" cy="117.2" r="2.72"/><circle cx="204.1" cy="139.5" r="2.72"/><circle cx="203.0" cy="140.0" r="2.72"/><circle cx="203.6" cy="139.8" r="2.72"/><circle cx="141.8" cy="190.7" r="2.72"/><circle cx="184.6" cy="155.5" r="2.72"/><circle cx="181.4" cy="158.2" r="2.72"/><circle cx="196.9" cy="145.4" r="2.72"/><circle cx="145.1" cy="188.5" r="2.72"/><circle cx="244.0" cy="106.6" r="2.72"/><circle cx="193.5" cy="148.3" r="2.72"/><circle cx="149.9" cy="184.7" r="2.72"/><circle cx="133.5" cy="196.2" r="2.72"/><circle cx="180.7" cy="158.6" r="2.72"/><circle cx="187.0" cy="153.9" r="2.72"/><circle cx="166.2" cy="170.8" r="2.72"/><circle cx="193.0" cy="148.4" r="2.72"/><circle cx="168.8" cy="168.9" r="2.72"/><circle cx="225.2" cy="114.5" r="2.72"/><circle cx="244.1" cy="115.6" r="2.72"/><circle cx="194.0" cy="155.0" r="2.72"/><circle cx="213.5" cy="139.5" r="2.72"/><circle cx="195.5" cy="139.0" r="2.72"/><circle cx="176.0" cy="154.5" r="2.72"/><circle cx="259.2" cy="99.0" r="2.72"/></g>
<g fill="#ffa500" fill-opacity="0.6"><circle cx="94.7" cy="227.2" r="2.72"/><circle cx="282.6" cy="87.0" r="2.72"/><circle cx="290.5" cy="65.0" r="2.72"/><circle cx="298.0" cy="66.5" r="2.72"/><circle cx="318.2" cy="47.6" r="2.72"/><circle cx="215.5" cy="117.5" r="2.72"/><circle cx="207.0" cy="123.0" r="2.72"/><circle cx="207.2" cy="123.5" r="2.72"/><circle cx="180.0" cy="150.0" r="2.72"/><circle cx="168.0" cy="160.0" r="2.72"/><circle cx="170.0" cy="158.5" r="2.72"/><circle cx="126.0" cy="202.5" r="2.72"/><circle cx="127.5" cy="201.0" r="2.72"/><circle cx="129.0" cy="200.3" r="2.72"/><circle cx="125.0" cy="203.5" r="2.72"/><circle cx="121.0" cy="207.5" r="2.72"/><circle cx="131.0" cy="198.8" r="2.72"/><circle cx="223.0" cy="131.0" r="2.72"/><circle cx="226.0" cy="136.0" r="2.72"/><circle cx="116.0" cy="208.0" r="2.72"/><circle cx="285.0" cy="78.0" r="2.72"/><circle cx="283.0" cy="80.0" r="2.72"/><circle cx="268.0" cy="90.0" r="2.72"/><circle cx="173.8" cy="162.5" r="2.72"/><circle cx="192.2" cy="148.0" r="2.72"/><circle cx="154.2" cy="176.3" r="2.72"/><circle cx="165.6" cy="171.9" r="2.72"/><circle cx="211.2" cy="132.8" r="2.72"/><circle cx="193.0" cy="150.2" r="2.72"/><circle cx="205.8" cy="137.9" r="2.72"/><circle cx="141.9" cy="189.0" r="2.72"/><circle cx="173.0" cy="164.7" r="2.72"/><circle cx="179.4" cy="161.7" r="2.72"/><circle cx="195.9" cy="148.2" r="2.72"/><circle cx="178.5" cy="161.9" r="2.72"/><circle cx="221.2" cy="127.4" r="2.72"/><circle cx="193.4" cy="150.8" r="2.72"/><circle cx="195.5" cy="146.3" r="2.72"/><circle cx="195.4" cy="149.2" r="2.72"/><circle cx="214.9" cy="132.1" r="2.72"/><circle cx="181.7" cy="157.3" r="2.72"/><circle cx="226.5" cy="124.4" r="2.72"/><circle cx="207.9" cy="134.2" r="2.72"/><circle cx="199.3" cy="145.5" r="2.72"/><circle cx="196.2" cy="150.9" r="2.72"/><circle cx="209.6" cy="135.5" r="2.72"/><circle cx="223.5" cy="124.3" r="2.72"/><circle cx="221.6" cy="125.6" r="2.72"/><circle cx="205.6" cy="135.5" r="2.72"/><circle cx="219.6" cy="126.4" r="2.72"/><circle cx="198.3" cy="147.3" r="2.72"/><circle cx="230.2" cy="118.7" r="2.72"/><circle cx="194.3" cy="146.9" r="2.72"/><circle cx="136.7" cy="194.7" r="2.72"/><circle cx="232.6" cy="119.4" r="2.72"/><circle cx="198.0" cy="145.5" r="2.72"/><circle cx="162.1" cy="175.7" r="2.72"/><circle cx="189.4" cy="154.1" r="2.72"/><circle cx="170.2" cy="167.8" r="2.72"/><circle cx="254.0" cy="99.6" r="2.72"/><circle cx="209.0" cy="135.8" r="2.72"/><circle cx="150.9" cy="183.5" r="2.72"/><circle cx="210.4" cy="136.7" r="2.72"/><circle cx="183.8" cy="153.6" r="2.72"/><circle cx="248.9" cy="104.1" r="2.72"/><circle cx="165.4" cy="171.4" r="2.72"/><circle cx="131.8" cy="199.5" r="2.72"/><circle cx="196.9" cy="145.4" r="2.72"/><circle cx="185.2" cy="152.6" r="2.72"/><circle cx="183.3" cy="158.8" r="2.72"/><circle cx="134.8" cy="195.2" r="2.72"/><circle cx="207.0" cy="139.2" r="2.72"/><circle cx="242.0" cy="106.3" r="2.72"/><circle cx="141.3" cy="193.8" r="2.72"/><circle cx="227.9" cy="120.2" r="2.72"/><circle cx="179.0" cy="161.7" r="2.72"/><circle cx="261.0" cy="94.3" r="2.72"/><circle cx="207.3" cy="135.1" r="2.72"/><circle cx="189.7" cy="149.4" r="2.72"/><circle cx="226.1" cy="121.3" r="2.72"/><circle cx="209.8" cy="137.1" r="2.72"/><circle cx="178.3" cy="159.2" r="2.72"/><circle cx="215.0" cy="132.7" r="2.72"/><circle cx="180.6" cy="161.8" r="2.72"/><circle cx="144.7" cy="188.9" r="2.72"/><circle cx="252.1" cy="100.4" r="2.72"/><circle cx="185.2" cy="154.9" r="2.72"/><circle cx="177.9" cy="161.4" r="2.72"/><circle cx="204.5" cy="133.7" r="2.72"/><circle cx="151.2" cy="185.1" r="2.72"/><circle cx="157.0" cy="179.5" r="2.72"/><circle cx="181.0" cy="160.1" r="2.72"/><circle cx="180.4" cy="157.4" r="2.72"/><circle cx="197.0" cy="148.2" r="2.72"/><circle cx="226.6" cy="123.1" r="2.72"/><circle cx="181.7" cy="158.5" r="2.72"/><circle cx="208.9" cy="137.8" r="2.72"/><circle cx="211.9" cy="132.4" r="2.72"/><circle cx="164.5" cy="176.3" r="2.72"/><circle cx="201.4" cy="140.2" r="2.72"/><circle cx="168.5" cy="168.3" r="2.72"/><circle cx="224.9" cy="123.0" r="2.72"/><circle cx="207.8" cy="137.7" r="2.72"/><circle cx="195.5" cy="145.9" r="2.72"/><circle cx="157.3" cy="179.5" r="2.72"/><circle cx="198.3" cy="143.6" r="2.72"/><circle cx="173.4" cy="161.5" r="2.72"/><circle cx="214.8" cy="130.5" r="2.72"/><circle cx="191.6" cy="147.7" r="2.72"/><circle cx="172.2" cy="164.9" r="2.72"/><circle cx="221.0" cy="126.7" r="2.72"/><circle cx="215.3" cy="127.7" r="2.72"/><circle cx="178.3" cy="158.4" r="2.72"/><circle cx="227.7" cy="121.8" r="2.72"/><circle cx="186.6" cy="153.4" r="2.72"/><circle cx="186.3" cy="147.8" r="2.72"/><circle cx="198.5" cy="142.3" r="2.72"/><circle cx="173.8" cy="163.2" r="2.72"/><circle cx="182.6" cy="159.0" r="2.72"/><circle cx="190.5" cy="150.9" r="2.72"/><circle cx="238.0" cy="110.5" r="2.72"/><circle cx="237.2" cy="114.7" r="2.72"/><circle cx="187.7" cy="156.4" r="2.72"/><circle cx="240.3" cy="106.4" r="2.72"/><circle cx="193.8" cy="149.4" r="2.72"/><circle cx="205.7" cy="141.4" r="2.72"/><circle cx="219.8" cy="131.5" r="2.72"/><circle cx="203.2" cy="137.1" r="2.72"/><circle cx="262.9" cy="91.6" r="2.72"/><circle cx="201.8" cy="143.1" r="2.72"/><circle cx="161.3" cy="177.2" r="2.72"/><circle cx="231.7" cy="114.5" r="2.72"/><circle cx="183.4" cy="157.9" r="2.72"/><circle cx="186.4" cy="156.8" r="2.72"/><circle cx="223.1" cy="122.4" r="2.72"/><circle cx="218.0" cy="128.0" r="2.72"/><circle cx="217.5" cy="129.7" r="2.72"/><circle cx="222.5" cy="125.6" r="2.72"/><circle cx="242.5" cy="110.2" r="2.72"/><circle cx="193.7" cy="148.2" r="2.72"/><circle cx="221.4" cy="126.2" r="2.72"/><circle cx="174.1" cy="166.7" r="2.72"/><circle cx="185.1" cy="153.4" r="2.72"/><circle cx="224.7" cy="119.7" r="2.72"/><circle cx="206.0" cy="138.3" r="2.72"/><circle cx="157.5" cy="178.2" r="2.72"/><circle cx="205.2" cy="136.7" r="2.72"/><circle cx="189.9" cy="152.7" r="2.72"/><circle cx="172.0" cy="165.5" r="2.72"/><circle cx="207.2" cy="134.5" r="2.72"/><circle cx="183.6" cy="157.0" r="2.72"/><circle cx="150.9" cy="187.6" r="2.72"/><circle cx="163.8" cy="177.3" r="2.72"/><circle cx="244.7" cy="107.3" r="2.72"/><circle cx="152.4" cy="182.5" r="2.72"/><circle cx="201.3" cy="145.2" r="2.72"/><circle cx="212.1" cy="135.7" r="2.72"/><circle cx="213.0" cy="131.3" r="2.72"/><circle cx="160.6" cy="171.5" r="2.72"/><circle cx="186.0" cy="153.3" r="2.72"/><circle cx="199.0" cy="144.1" r="2.72"/><circle cx="217.5" cy="126.1" r="2.72"/><circle cx="176.9" cy="160.0" r="2.72"/><circle cx="162.3" cy="172.3" r="2.72"/><circle cx="223.2" cy="126.1" r="2.72"/><circle cx="226.1" cy="117.5" r="2.72"/><circle cx="205.4" cy="141.2" r="2.72"/><circle cx="177.9" cy="161.9" r="2.72"/><circle cx="206.4" cy="142.1" r="2.72"/><circle cx="198.1" cy="143.9" r="2.72"/><circle cx="218.5" cy="127.9" r="2.72"/><circle cx="159.9" cy="175.0" r="2.72"/><circle cx="198.3" cy="144.9" r="2.72"/><circle cx="190.5" cy="153.2" r="2.72"/><circle cx="163.8" cy="173.2" r="2.72"/><circle cx="201.1" cy="144.9" r="2.72"/><circle cx="196.0" cy="142.2" r="2.72"/><circle cx="183.5" cy="160.0" r="2.72"/><circle cx="206.1" cy="136.6" r="2.72"/><circle cx="155.1" cy="184.2" r="2.72"/><circle cx="193.5" cy="149.8" r="2.72"/><circle cx="207.1" cy="138.1" r="2.72"/><circle cx="203.0" cy="138.9" r="2.72"/><circle cx="225.3" cy="121.9" r="2.72"/><circle cx="161.2" cy="174.9" r="2.72"/><circle cx="152.6" cy="185.0" r="2.72"/><circle cx="201.7" cy="139.9" r="2.72"/><circle cx="207.8" cy="137.0" r="2.72"/><circle cx="254.6" cy="98.8" r="2.72"/><circle cx="212.3" cy="129.8" r="2.72"/><circle cx="170.4" cy="165.6" r="2.72"/><circle cx="217.7" cy="128.1" r="2.72"/><circle cx="241.7" cy="106.9" r="2.72"/><circle cx="159.9" cy="178.6" r="2.72"/><circle cx="164.4" cy="172.8" r="2.72"/><circle cx="235.3" cy="113.2" r="2.72"/><circle cx="237.5" cy="113.3" r="2.72"/><circle cx="242.4" cy="110.2" r="2.72"/><circle cx="243.6" cy="107.0" r="2.72"/><circle cx="236.2" cy="115.1" r="2.72"/><circle cx="221.8" cy="125.0" r="2.72"/><circle cx="246.4" cy="102.3" r="2.72"/><circle cx="160.6" cy="173.8" r="2.72"/><circle cx="177.5" cy="161.0" r="2.72"/><circle cx="246.4" cy="105.7" r="2.72"/><circle cx="175.0" cy="156.3" r="2.72"/><circle cx="219.0" cy="126.9" r="2.72"/><circle cx="183.8" cy="158.4" r="2.72"/><circle cx="206.1" cy="133.5" r="2.72"/><circle cx="258.4" cy="90.6" r="2.72"/><circle cx="235.9" cy="112.9" r="2.72"/><circle cx="207.9" cy="135.0" r="2.72"/><circle cx="185.6" cy="154.0" r="2.72"/><circle cx="254.7" cy="97.5" r="2.72"/><circle cx="235.4" cy="111.8" r="2.72"/><circle cx="207.2" cy="139.2" r="2.72"/><circle cx="263.0" cy="93.3" r="2.72"/><circle cx="240.0" cy="111.6" r="2.72"/><circle cx="277.5" cy="77.8" r="2.72"/><circle cx="236.4" cy="112.6" r="2.72"/><circle cx="267.0" cy="88.0" r="2.72"/><circle cx="221.6" cy="122.9" r="2.72"/><circle cx="242.3" cy="108.8" r="2.72"/><circle cx="259.5" cy="94.2" r="2.72"/><circle cx="161.8" cy="173.7" r="2.72"/><circle cx="211.6" cy="129.3" r="2.72"/><circle cx="228.7" cy="115.2" r="2.72"/><circle cx="157.5" cy="176.7" r="2.72"/><circle cx="252.6" cy="99.2" r="2.72"/><circle cx="243.0" cy="105.9" r="2.72"/><circle cx="271.7" cy="86.3" r="2.72"/><circle cx="198.4" cy="142.8" r="2.72"/><circle cx="211.0" cy="131.7" r="2.72"/><circle cx="268.5" cy="86.6" r="2.72"/><circle cx="203.5" cy="142.7" r="2.72"/><circle cx="258.5" cy="93.3" r="2.72"/><circle cx="204.8" cy="139.7" r="2.72"/><circle cx="193.9" cy="147.8" r="2.72"/><circle cx="186.0" cy="157.0" r="2.72"/><circle cx="177.8" cy="160.9" r="2.72"/><circle cx="206.1" cy="140.4" r="2.72"/><circle cx="171.0" cy="167.5" r="2.72"/><circle cx="307.3" cy="53.7" r="2.72"/><circle cx="313.8" cy="50.3" r="2.72"/><circle cx="274.4" cy="82.4" r="2.72"/><circle cx="272.5" cy="80.8" r="2.72"/><circle cx="270.2" cy="80.3" r="2.72"/><circle cx="311.9" cy="51.7" r="2.72"/></g>
<g fill="#008000" fill-opacity="0.6"><circle cx="88.1" cy="226.4" r="2.72"/><circle cx="108.0" cy="215.3" r="2.72"/><circle cx="104.0" cy="219.0" r="2.72"/><circle cx="301.3" cy="76.4" r="2.72"/><circle cx="332.4" cy="28.2" r="2.72"/><circle cx="328.2" cy="36.0" r="2.72"/><circle cx="326.7" cy="40.1" r="2.72"/><circle cx="319.5" cy="41.1" r="2.72"/><circle cx="314.3" cy="47.0" r="2.72"/><circle cx="311.8" cy="50.4" r="2.72"/><circle cx="307.8" cy="55.6" r="2.72"/><circle cx="249.0" cy="92.5" r="2.72"/><circle cx="258.5" cy="89.0" r="2.72"/><circle cx="256.5" cy="104.5" r="2.72"/><circle cx="250.0" cy="109.5" r="2.72"/><circle cx="240.0" cy="122.0" r="2.72"/><circle cx="244.5" cy="116.0" r="2.72"/><circle cx="183.5" cy="147.0" r="2.72"/><circle cx="208.5" cy="130.0" r="2.72"/><circle cx="273.5" cy="76.5" r="2.72"/><circle cx="266.0" cy="83.0" r="2.72"/><circle cx="281.5" cy="77.0" r="2.72"/><circle cx="142.0" cy="183.5" r="2.72"/><circle cx="137.5" cy="188.5" r="2.72"/><circle cx="107.0" cy="216.0" r="2.72"/><circle cx="120.5" cy="205.5" r="2.72"/><circle cx="289.5" cy="70.0" r="2.72"/><circle cx="277.0" cy="82.0" r="2.72"/><circle cx="188.1" cy="153.9" r="2.72"/><circle cx="156.0" cy="179.2" r="2.72"/><circle cx="168.3" cy="169.2" r="2.72"/><circle cx="197.8" cy="146.1" r="2.72"/><circle cx="204.7" cy="139.3" r="2.72"/><circle cx="192.3" cy="149.0" r="2.72"/><circle cx="223.2" cy="126.8" r="2.72"/><circle cx="222.9" cy="126.2" r="2.72"/><circle cx="204.1" cy="142.6" r="2.72"/><circle cx="195.8" cy="149.1" r="2.72"/><circle cx="187.9" cy="152.6" r="2.72"/><circle cx="210.5" cy="133.9" r="2.72"/><circle cx="220.9" cy="128.4" r="2.72"/><circle cx="196.7" cy="144.5" r="2.72"/><circle cx="207.6" cy="135.0" r="2.72"/><circle cx="185.9" cy="154.6" r="2.72"/><circle cx="155.3" cy="179.4" r="2.72"/><circle cx="166.9" cy="169.8" r="2.72"/><circle cx="216.5" cy="130.1" r="2.72"/><circle cx="207.6" cy="134.2" r="2.72"/><circle cx="239.7" cy="111.4" r="2.72"/><circle cx="196.6" cy="146.4" r="2.72"/><circle cx="219.3" cy="130.6" r="2.72"/><circle cx="232.2" cy="115.0" r="2.72"/><circle cx="223.0" cy="124.8" r="2.72"/><circle cx="177.9" cy="158.6" r="2.72"/><circle cx="189.8" cy="153.8" r="2.72"/><circle cx="198.6" cy="141.5" r="2.72"/><circle cx="167.3" cy="173.6" r="2.72"/><circle cx="208.3" cy="136.2" r="2.72"/><circle cx="223.8" cy="123.2" r="2.72"/><circle cx="181.5" cy="159.0" r="2.72"/><circle cx="250.4" cy="98.9" r="2.72"/><circle cx="186.8" cy="155.3" r="2.72"/><circle cx="189.3" cy="152.3" r="2.72"/><circle cx="188.3" cy="152.6" r="2.72"/><circle cx="175.1" cy="163.7" r="2.72"/><circle cx="206.7" cy="138.2" r="2.72"/><circle cx="195.6" cy="146.0" r="2.72"/><circle cx="241.7" cy="109.2" r="2.72"/><circle cx="212.1" cy="130.7" r="2.72"/><circle cx="210.1" cy="136.9" r="2.72"/><circle cx="188.8" cy="152.4" r="2.72"/><circle cx="155.2" cy="179.4" r="2.72"/><circle cx="192.5" cy="148.3" r="2.72"/><circle cx="171.1" cy="164.7" r="2.72"/><circle cx="221.8" cy="126.5" r="2.72"/><circle cx="194.1" cy="146.3" r="2.72"/><circle cx="241.8" cy="108.4" r="2.72"/><circle cx="215.7" cy="132.8" r="2.72"/><circle cx="218.5" cy="126.3" r="2.72"/><circle cx="201.5" cy="143.7" r="2.72"/><circle cx="200.9" cy="143.0" r="2.72"/><circle cx="213.4" cy="131.1" r="2.72"/><circle cx="220.9" cy="126.4" r="2.72"/><circle cx="175.0" cy="165.1" r="2.72"/><circle cx="208.8" cy="134.8" r="2.72"/><circle cx="268.7" cy="85.0" r="2.72"/><circle cx="192.5" cy="150.1" r="2.72"/><circle cx="187.8" cy="153.6" r="2.72"/><circle cx="175.5" cy="162.7" r="2.72"/><circle cx="154.3" cy="180.8" r="2.72"/><circle cx="228.4" cy="119.7" r="2.72"/><circle cx="196.7" cy="142.8" r="2.72"/><circle cx="203.4" cy="140.6" r="2.72"/><circle cx="246.9" cy="105.6" r="2.72"/><circle cx="265.5" cy="90.3" r="2.72"/><circle cx="170.0" cy="167.3" r="2.72"/><circle cx="224.6" cy="123.5" r="2.72"/><circle cx="212.5" cy="134.0" r="2.72"/><circle cx="206.2" cy="140.1" r="2.72"/><circle cx="208.5" cy="132.7" r="2.72"/><circle cx="194.4" cy="146.8" r="2.72"/><circle cx="239.7" cy="111.8" r="2.72"/><circle cx="212.3" cy="131.9" r="2.72"/><circle cx="204.8" cy="138.4" r="2.72"/><circle cx="230.1" cy="116.1" r="2.72"/><circle cx="220.3" cy="127.6" r="2.72"/><circle cx="208.0" cy="134.5" r="2.72"/><circle cx="204.3" cy="138.2" r="2.72"/><circle cx="244.4" cy="108.0" r="2.72"/><circle cx="209.4" cy="134.9" r="2.72"/><circle cx="192.6" cy="148.8" r="2.72"/><circle cx="171.0" cy="166.6" r="2.72"/><circle cx="185.4" cy="158.4" r="2.72"/><circle cx="165.6" cy="171.2" r="2.72"/><circle cx="198.1" cy="145.1" r="2.72"/><circle cx="202.3" cy="139.8" r="2.72"/><circle cx="137.4" cy="194.3" r="2.72"/><circle cx="195.6" cy="147.5" r="2.72"/><circle cx="213.3" cy="133.4" r="2.72"/><circle cx="199.8" cy="143.6" r="2.72"/><circle cx="168.2" cy="168.9" r="2.72"/><circle cx="230.7" cy="117.5" r="2.72"/><circle cx="175.5" cy="165.4" r="2.72"/><circle cx="160.5" cy="173.3" r="2.72"/><circle cx="164.7" cy="171.0" r="2.72"/><circle cx="194.7" cy="147.3" r="2.72"/><circle cx="222.7" cy="123.8" r="2.72"/><circle cx="227.8" cy="119.0" r="2.72"/><circle cx="201.0" cy="141.8" r="2.72"/><circle cx="161.5" cy="175.3" r="2.72"/><circle cx="176.6" cy="160.7" r="2.72"/><circle cx="169.8" cy="168.3" r="2.72"/><circle cx="190.0" cy="151.7" r="2.72"/><circle cx="145.2" cy="188.3" r="2.72"/><circle cx="198.2" cy="144.6" r="2.72"/><circle cx="213.2" cy="131.7" r="2.72"/><circle cx="190.8" cy="145.4" r="2.72"/><circle cx="208.0" cy="137.1" r="2.72"/><circle cx="168.6" cy="168.3" r="2.72"/><circle cx="154.1" cy="179.7" r="2.72"/><circle cx="177.1" cy="164.1" r="2.72"/><circle cx="227.6" cy="120.4" r="2.72"/><circle cx="224.0" cy="125.3" r="2.72"/><circle cx="182.2" cy="158.8" r="2.72"/><circle cx="228.9" cy="121.2" r="2.72"/><circle cx="185.9" cy="154.2" r="2.72"/><circle cx="237.5" cy="112.7" r="2.72"/><circle cx="208.6" cy="134.3" r="2.72"/><circle cx="182.3" cy="158.1" r="2.72"/><circle cx="217.4" cy="129.1" r="2.72"/><circle cx="173.2" cy="166.1" r="2.72"/><circle cx="168.7" cy="170.2" r="2.72"/><circle cx="154.2" cy="179.4" r="2.72"/><circle cx="202.3" cy="143.1" r="2.72"/><circle cx="193.5" cy="146.5" r="2.72"/><circle cx="192.8" cy="149.6" r="2.72"/><circle cx="183.5" cy="158.6" r="2.72"/><circle cx="235.4" cy="113.4" r="2.72"/><circle cx="183.1" cy="158.0" r="2.72"/><circle cx="174.7" cy="165.0" r="2.72"/><circle cx="230.0" cy="116.1" r="2.72"/><circle cx="235.0" cy="112.2" r="2.72"/><circle cx="204.5" cy="143.4" r="2.72"/><circle cx="146.1" cy="188.3" r="2.72"/><circle cx="178.1" cy="161.9" r="2.72"/><circle cx="212.2" cy="133.5" r="2.72"/><circle cx="195.5" cy="144.3" r="2.72"/><circle cx="238.7" cy="112.2" r="2.72"/><circle cx="156.6" cy="180.3" r="2.72"/><circle cx="214.1" cy="131.0" r="2.72"/><circle cx="177.4" cy="160.1" r="2.72"/><circle cx="232.2" cy="118.4" r="2.72"/><circle cx="192.9" cy="149.2" r="2.72"/><circle cx="224.0" cy="123.5" r="2.72"/><circle cx="176.8" cy="161.3" r="2.72"/><circle cx="155.4" cy="176.6" r="2.72"/><circle cx="163.8" cy="171.8" r="2.72"/><circle cx="177.9" cy="162.0" r="2.72"/><circle cx="166.0" cy="173.6" r="2.72"/><circle cx="238.3" cy="115.1" r="2.72"/><circle cx="180.2" cy="159.3" r="2.72"/><circle cx="225.5" cy="120.4" r="2.72"/><circle cx="229.4" cy="117.5" r="2.72"/><circle cx="262.1" cy="92.8" r="2.72"/><circle cx="256.9" cy="93.7" r="2.72"/><circle cx="195.2" cy="148.7" r="2.72"/><circle cx="230.8" cy="115.7" r="2.72"/><circle cx="158.9" cy="176.4" r="2.72"/><circle cx="146.9" cy="187.8" r="2.72"/><circle cx="234.4" cy="112.8" r="2.72"/><circle cx="261.8" cy="93.8" r="2.72"/><circle cx="239.0" cy="112.0" r="2.72"/><circle cx="206.4" cy="137.2" r="2.72"/><circle cx="222.4" cy="118.9" r="2.72"/><circle cx="236.7" cy="111.1" r="2.72"/><circle cx="213.8" cy="132.5" r="2.72"/><circle cx="184.6" cy="153.2" r="2.72"/><circle cx="253.8" cy="94.8" r="2.72"/><circle cx="185.4" cy="154.6" r="2.72"/><circle cx="261.3" cy="92.4" r="2.72"/><circle cx="246.5" cy="106.1" r="2.72"/><circle cx="245.6" cy="106.9" r="2.72"/><circle cx="251.4" cy="102.7" r="2.72"/><circle cx="273.1" cy="84.5" r="2.72"/><circle cx="273.6" cy="85.0" r="2.72"/><circle cx="204.2" cy="140.5" r="2.72"/><circle cx="186.6" cy="155.3" r="2.72"/><circle cx="237.1" cy="112.8" r="2.72"/><circle cx="270.4" cy="84.5" r="2.72"/><circle cx="222.5" cy="125.9" r="2.72"/><circle cx="136.6" cy="196.4" r="2.72"/><circle cx="138.5" cy="193.7" r="2.72"/><circle cx="198.9" cy="140.1" r="2.72"/><circle cx="244.9" cy="104.6" r="2.72"/><circle cx="259.0" cy="97.4" r="2.72"/><circle cx="186.3" cy="153.4" r="2.72"/><circle cx="206.4" cy="136.9" r="2.72"/><circle cx="205.9" cy="138.6" r="2.72"/><circle cx="146.4" cy="191.6" r="2.72"/><circle cx="133.1" cy="199.5" r="2.72"/><circle cx="207.4" cy="136.4" r="2.72"/><circle cx="204.6" cy="136.3" r="2.72"/><circle cx="255.6" cy="95.7" r="2.72"/><circle cx="158.8" cy="178.3" r="2.72"/><circle cx="254.1" cy="99.0" r="2.72"/><circle cx="171.5" cy="165.8" r="2.72"/><circle cx="209.6" cy="134.3" r="2.72"/><circle cx="233.4" cy="113.0" r="2.72"/><circle cx="153.6" cy="185.8" r="2.72"/><circle cx="267.4" cy="87.7" r="2.72"/><circle cx="269.0" cy="86.7" r="2.72"/><circle cx="270.7" cy="85.8" r="2.72"/><circle cx="133.3" cy="198.6" r="2.72"/><circle cx="224.4" cy="123.8" r="2.72"/><circle cx="228.3" cy="120.7" r="2.72"/><circle cx="257.9" cy="97.8" r="2.72"/><circle cx="161.6" cy="175.9" r="2.72"/><circle cx="150.6" cy="183.2" r="2.72"/><circle cx="247.9" cy="101.6" r="2.72"/><circle cx="170.2" cy="167.9" r="2.72"/><circle cx="142.4" cy="187.8" r="2.72"/><circle cx="146.1" cy="185.3" r="2.72"/><circle cx="224.6" cy="125.7" r="2.72"/><circle cx="209.1" cy="135.1" r="2.72"/><circle cx="239.2" cy="110.3" r="2.72"/><circle cx="247.6" cy="102.7" r="2.72"/><circle cx="133.4" cy="196.1" r="2.72"/><circle cx="265.5" cy="89.8" r="2.72"/><circle cx="257.9" cy="93.7" r="2.72"/><circle cx="265.5" cy="92.0" r="2.72"/><circle cx="242.2" cy="107.1" r="2.72"/><circle cx="187.5" cy="155.2" r="2.72"/><circle cx="168.2" cy="171.2" r="2.72"/><circle cx="262.6" cy="88.9" r="2.72"/><circle cx="192.7" cy="150.1" r="2.72"/><circle cx="202.3" cy="139.3" r="2.72"/><circle cx="232.2" cy="116.3" r="2.72"/><circle cx="230.8" cy="117.0" r="2.72"/><circle cx="231.5" cy="118.0" r="2.72"/><circle cx="221.6" cy="127.7" r="2.72"/><circle cx="205.2" cy="136.6" r="2.72"/><circle cx="241.9" cy="106.2" r="2.72"/><circle cx="189.2" cy="151.7" r="2.72"/><circle cx="170.3" cy="167.8" r="2.72"/><circle cx="262.1" cy="93.0" r="2.72"/><circle cx="253.1" cy="100.6" r="2.72"/><circle cx="234.9" cy="115.4" r="2.72"/><circle cx="156.9" cy="180.9" r="2.72"/><circle cx="277.3" cy="79.8" r="2.72"/><circle cx="321.1" cy="42.1" r="2.72"/><circle cx="322.1" cy="43.9" r="2.72"/><circle cx="288.6" cy="69.7" r="2.72"/><circle cx="306.5" cy="55.1" r="2.72"/><circle cx="275.9" cy="81.8" r="2.72"/><circle cx="294.7" cy="63.5" r="2.72"/><circle cx="310.2" cy="53.0" r="2.72"/><circle cx="293.1" cy="64.4" r="2.72"/></g>
<path d="M37.50 275.5v-4.3M37.5 275.50h4.3M103.64 275.5v-4.3M37.5 221.90h4.3M169.78 275.5v-4.3M37.5 168.30h4.3M235.92 275.5v-4.3M37.5 114.70h4.3M302.06 275.5v-4.3M37.5 61.10h4.3M368.20 275.5v-4.3M37.5 7.50h4.3" stroke="#3a3a3a" stroke-width="1.1" fill="none"/>
<rect x="37.5" y="7.5" width="330.7" height="268.0" fill="none" stroke="#3a3a3a" stroke-width="1.2"/>
<text transform="translate(37.50,286.70) scale(1.0,1)" text-anchor="middle" font-family="'DejaVu Sans', 'Liberation Sans', sans-serif" font-size="12.0" fill="#000" stroke="#000" stroke-width="0.2">0.6</text>
<text transform="translate(35.90,280.10) scale(1.0,1)" text-anchor="end" font-family="'DejaVu Sans', 'Liberation Sans', sans-serif" font-size="12.0" fill="#000" stroke="#000" stroke-width="0.2">0.6</text>
<text transform="translate(103.64,286.70) scale(1.0,1)" text-anchor="middle" font-family="'DejaVu Sans', 'Liberation Sans', sans-serif" font-size="12.0" fill="#000" stroke="#000" stroke-width="0.2">0.7</text>
<text transform="translate(35.90,226.50) scale(1.0,1)" text-anchor="end" font-family="'DejaVu Sans', 'Liberation Sans', sans-serif" font-size="12.0" fill="#000" stroke="#000" stroke-width="0.2">0.7</text>
<text transform="translate(169.78,286.70) scale(1.0,1)" text-anchor="middle" font-family="'DejaVu Sans', 'Liberation Sans', sans-serif" font-size="12.0" fill="#000" stroke="#000" stroke-width="0.2">0.8</text>
<text transform="translate(35.90,172.90) scale(1.0,1)" text-anchor="end" font-family="'DejaVu Sans', 'Liberation Sans', sans-serif" font-size="12.0" fill="#000" stroke="#000" stroke-width="0.2">0.8</text>
<text transform="translate(235.92,286.70) scale(1.0,1)" text-anchor="middle" font-family="'DejaVu Sans', 'Liberation Sans', sans-serif" font-size="12.0" fill="#000" stroke="#000" stroke-width="0.2">0.9</text>
<text transform="translate(35.90,119.30) scale(1.0,1)" text-anchor="end" font-family="'DejaVu Sans', 'Liberation Sans', sans-serif" font-size="12.0" fill="#000" stroke="#000" stroke-width="0.2">0.9</text>
<text transform="translate(302.06,286.70) scale(1.0,1)" text-anchor="middle" font-family="'DejaVu Sans', 'Liberation Sans', sans-serif" font-size="12.0" fill="#000" stroke="#000" stroke-width="0.2">1.0</text>
<text transform="translate(35.90,65.70) scale(1.0,1)" text-anchor="end" font-family="'DejaVu Sans', 'Liberation Sans', sans-serif" font-size="12.0" fill="#000" stroke="#000" stroke-width="0.2">1.0</text>
<text transform="translate(368.20,286.70) scale(1.0,1)" text-anchor="middle" font-family="'DejaVu Sans', 'Liberation Sans', sans-serif" font-size="12.0" fill="#000" stroke="#000" stroke-width="0.2">1.1</text>
<text transform="translate(35.90,12.10) scale(1.0,1)" text-anchor="end" font-family="'DejaVu Sans', 'Liberation Sans', sans-serif" font-size="12.0" fill="#000" stroke="#000" stroke-width="0.2">1.1</text>
<g fill="#0000ff" fill-opacity="0.6"><circle cx="727.2" cy="41.7" r="2.72"/><circle cx="718.6" cy="52.1" r="2.72"/><circle cx="711.5" cy="58.1" r="2.72"/><circle cx="708.5" cy="61.5" r="2.72"/><circle cx="698.2" cy="66.8" r="2.72"/><circle cx="692.2" cy="71.8" r="2.72"/><circle cx="688.0" cy="76.6" r="2.72"/><circle cx="682.9" cy="76.9" r="2.72"/><circle cx="657.8" cy="100.3" r="2.72"/><circle cx="658.2" cy="100.0" r="2.72"/><circle cx="653.0" cy="105.9" r="2.72"/><circle cx="650.6" cy="107.0" r="2.72"/><circle cx="643.5" cy="109.0" r="2.72"/><circle cx="648.0" cy="105.0" r="2.72"/><circle cx="467.8" cy="255.6" r="2.72"/><circle cx="655.0" cy="103.0" r="2.72"/><circle cx="642.1" cy="111.8" r="2.72"/><circle cx="523.5" cy="208.2" r="2.72"/><circle cx="599.2" cy="147.2" r="2.72"/><circle cx="628.3" cy="125.5" r="2.72"/><circle cx="522.5" cy="209.8" r="2.72"/><circle cx="631.4" cy="121.3" r="2.72"/><circle cx="602.7" cy="144.6" r="2.72"/><circle cx="585.5" cy="158.5" r="2.72"/><circle cx="509.6" cy="220.3" r="2.72"/><circle cx="523.6" cy="207.5" r="2.72"/><circle cx="494.1" cy="231.6" r="2.72"/><circle cx="627.5" cy="124.9" r="2.72"/><circle cx="612.9" cy="137.4" r="2.72"/><circle cx="491.5" cy="233.2" r="2.72"/><circle cx="566.2" cy="174.8" r="2.72"/><circle cx="512.8" cy="216.7" r="2.72"/><circle cx="605.6" cy="141.1" r="2.72"/><circle cx="573.3" cy="169.4" r="2.72"/><circle cx="635.8" cy="117.9" r="2.72"/><circle cx="599.2" cy="148.0" r="2.72"/><circle cx="493.9" cy="232.5" r="2.72"/><circle cx="539.6" cy="195.7" r="2.72"/><circle cx="573.8" cy="166.8" r="2.72"/><circle cx="630.2" cy="122.2" r="2.72"/><circle cx="539.3" cy="196.1" r="2.72"/><circle cx="508.6" cy="220.2" r="2.72"/><circle cx="524.6" cy="208.3" r="2.72"/><circle cx="518.7" cy="213.1" r="2.72"/><circle cx="503.0" cy="223.9" r="2.72"/><circle cx="534.8" cy="200.4" r="2.72"/><circle cx="518.8" cy="213.1" r="2.72"/><circle cx="562.8" cy="177.2" r="2.72"/><circle cx="627.2" cy="125.8" r="2.72"/><circle cx="637.3" cy="118.5" r="2.72"/><circle cx="503.8" cy="224.1" r="2.72"/><circle cx="572.7" cy="169.8" r="2.72"/><circle cx="590.2" cy="155.4" r="2.72"/><circle cx="502.6" cy="226.1" r="2.72"/><circle cx="566.3" cy="175.0" r="2.72"/><circle cx="510.6" cy="220.2" r="2.72"/><circle cx="538.2" cy="197.0" r="2.72"/><circle cx="531.4" cy="200.7" r="2.72"/><circle cx="613.9" cy="135.3" r="2.72"/><circle cx="516.3" cy="214.2" r="2.72"/><circle cx="567.7" cy="174.3" r="2.72"/><circle cx="575.4" cy="167.0" r="2.72"/><circle cx="532.4" cy="202.6" r="2.72"/><circle cx="633.1" cy="119.7" r="2.72"/><circle cx="532.8" cy="201.6" r="2.72"/><circle cx="531.8" cy="202.2" r="2.72"/><circle cx="593.4" cy="152.5" r="2.72"/><circle cx="558.9" cy="180.7" r="2.72"/><circle cx="598.8" cy="149.2" r="2.72"/><circle cx="502.7" cy="225.3" r="2.72"/><circle cx="501.9" cy="227.5" r="2.72"/><circle cx="600.7" cy="147.4" r="2.72"/><circle cx="542.3" cy="194.0" r="2.72"/><circle cx="621.0" cy="130.6" r="2.72"/><circle cx="516.2" cy="214.6" r="2.72"/><circle cx="517.4" cy="213.1" r="2.72"/><circle cx="622.0" cy="129.1" r="2.72"/><circle cx="537.8" cy="197.3" r="2.72"/><circle cx="495.4" cy="231.6" r="2.72"/><circle cx="514.0" cy="216.0" r="2.72"/><circle cx="606.3" cy="143.4" r="2.72"/><circle cx="521.6" cy="210.2" r="2.72"/><circle cx="570.4" cy="171.7" r="2.72"/><circle cx="617.2" cy="134.1" r="2.72"/><circle cx="579.6" cy="163.6" r="2.72"/><circle cx="603.5" cy="144.6" r="2.72"/><circle cx="641.1" cy="113.4" r="2.72"/><circle cx="527.3" cy="205.1" r="2.72"/><circle cx="624.2" cy="129.2" r="2.72"/><circle cx="569.6" cy="171.7" r="2.72"/><circle cx="510.8" cy="217.7" r="2.72"/><circle cx="499.2" cy="228.0" r="2.72"/><circle cx="532.1" cy="200.9" r="2.72"/><circle cx="500.1" cy="227.8" r="2.72"/><circle cx="606.6" cy="142.8" r="2.72"/><circle cx="570.6" cy="171.7" r="2.72"/><circle cx="484.4" cy="240.0" r="2.72"/><circle cx="624.6" cy="126.5" r="2.72"/><circle cx="577.1" cy="166.1" r="2.72"/><circle cx="551.4" cy="186.6" r="2.72"/><circle cx="500.7" cy="227.2" r="2.72"/><circle cx="555.9" cy="184.0" r="2.72"/><circle cx="631.1" cy="122.2" r="2.72"/><circle cx="575.2" cy="165.9" r="2.72"/><circle cx="554.1" cy="182.5" r="2.72"/><circle cx="579.2" cy="164.0" r="2.72"/><circle cx="569.5" cy="170.4" r="2.72"/><circle cx="581.8" cy="162.2" r="2.72"/><circle cx="510.4" cy="220.1" r="2.72"/><circle cx="502.0" cy="228.0" r="2.72"/><circle cx="479.1" cy="244.1" r="2.72"/><circle cx="616.7" cy="133.8" r="2.72"/><circle cx="477.5" cy="244.3" r="2.72"/><circle cx="520.0" cy="211.5" r="2.72"/><circle cx="575.3" cy="166.9" r="2.72"/><circle cx="561.0" cy="180.0" r="2.72"/><circle cx="628.4" cy="122.9" r="2.72"/><circle cx="512.8" cy="217.8" r="2.72"/><circle cx="496.2" cy="231.2" r="2.72"/><circle cx="503.9" cy="226.4" r="2.72"/><circle cx="560.6" cy="178.2" r="2.72"/><circle cx="525.9" cy="206.2" r="2.72"/><circle cx="553.5" cy="185.1" r="2.72"/><circle cx="592.6" cy="153.0" r="2.72"/><circle cx="531.0" cy="202.6" r="2.72"/><circle cx="588.7" cy="155.5" r="2.72"/><circle cx="480.3" cy="243.8" r="2.72"/><circle cx="568.8" cy="171.0" r="2.72"/><circle cx="629.4" cy="123.5" r="2.72"/><circle cx="633.9" cy="120.1" r="2.72"/><circle cx="573.1" cy="169.2" r="2.72"/><circle cx="642.2" cy="114.9" r="2.72"/><circle cx="516.5" cy="215.2" r="2.72"/><circle cx="527.0" cy="205.3" r="2.72"/><circle cx="552.3" cy="185.5" r="2.72"/><circle cx="562.5" cy="178.0" r="2.72"/><circle cx="614.7" cy="134.9" r="2.72"/><circle cx="552.2" cy="187.3" r="2.72"/><circle cx="485.1" cy="240.2" r="2.72"/><circle cx="594.6" cy="151.1" r="2.72"/><circle cx="514.4" cy="215.8" r="2.72"/><circle cx="625.2" cy="127.2" r="2.72"/><circle cx="512.6" cy="217.1" r="2.72"/><circle cx="526.7" cy="205.0" r="2.72"/><circle cx="500.1" cy="228.2" r="2.72"/><circle cx="527.8" cy="204.9" r="2.72"/><circle cx="578.0" cy="166.1" r="2.72"/><circle cx="521.9" cy="211.7" r="2.72"/><circle cx="485.1" cy="239.5" r="2.72"/><circle cx="575.5" cy="166.8" r="2.72"/><circle cx="600.5" cy="146.5" r="2.72"/><circle cx="495.3" cy="232.2" r="2.72"/><circle cx="548.3" cy="189.1" r="2.72"/><circle cx="488.5" cy="236.7" r="2.72"/><circle cx="479.8" cy="242.9" r="2.72"/><circle cx="539.9" cy="195.8" r="2.72"/><circle cx="525.1" cy="208.8" r="2.72"/><circle cx="624.0" cy="126.7" r="2.72"/><circle cx="479.3" cy="244.2" r="2.72"/><circle cx="585.6" cy="158.2" r="2.72"/><circle cx="600.3" cy="146.7" r="2.72"/><circle cx="547.1" cy="188.1" r="2.72"/><circle cx="561.1" cy="178.4" r="2.72"/><circle cx="518.5" cy="212.6" r="2.72"/><circle cx="519.4" cy="213.6" r="2.72"/><circle cx="485.9" cy="239.8" r="2.72"/><circle cx="629.2" cy="124.0" r="2.72"/><circle cx="481.8" cy="242.7" r="2.72"/><circle cx="500.0" cy="227.6" r="2.72"/><circle cx="598.7" cy="148.7" r="2.72"/><circle cx="553.9" cy="183.1" r="2.72"/><circle cx="563.0" cy="177.8" r="2.72"/><circle cx="526.5" cy="206.9" r="2.72"/><circle cx="504.1" cy="224.5" r="2.72"/><circle cx="611.3" cy="138.9" r="2.72"/><circle cx="497.8" cy="229.3" r="2.72"/><circle cx="526.7" cy="205.9" r="2.72"/><circle cx="603.3" cy="144.6" r="2.72"/><circle cx="527.1" cy="204.6" r="2.72"/><circle cx="636.8" cy="117.2" r="2.72"/><circle cx="506.4" cy="222.5" r="2.72"/><circle cx="565.6" cy="175.6" r="2.72"/><circle cx="567.4" cy="174.7" r="2.72"/><circle cx="561.1" cy="179.0" r="2.72"/><circle cx="607.1" cy="141.6" r="2.72"/><circle cx="484.7" cy="240.6" r="2.72"/><circle cx="568.7" cy="171.8" r="2.72"/><circle cx="609.7" cy="141.0" r="2.72"/><circle cx="485.5" cy="240.5" r="2.72"/><circle cx="568.8" cy="173.7" r="2.72"/><circle cx="551.0" cy="185.7" r="2.72"/><circle cx="545.0" cy="192.0" r="2.72"/><circle cx="567.3" cy="173.9" r="2.72"/><circle cx="582.0" cy="162.5" r="2.72"/><circle cx="595.2" cy="150.3" r="2.72"/><circle cx="627.9" cy="124.8" r="2.72"/><circle cx="587.3" cy="157.2" r="2.72"/><circle cx="644.8" cy="112.3" r="2.72"/><circle cx="588.7" cy="155.3" r="2.72"/><circle cx="522.2" cy="209.7" r="2.72"/><circle cx="501.7" cy="226.1" r="2.72"/><circle cx="488.9" cy="236.0" r="2.72"/><circle cx="522.1" cy="210.2" r="2.72"/><circle cx="497.0" cy="230.5" r="2.72"/><circle cx="591.8" cy="153.1" r="2.72"/><circle cx="592.8" cy="152.5" r="2.72"/><circle cx="579.8" cy="163.6" r="2.72"/><circle cx="541.3" cy="194.5" r="2.72"/><circle cx="554.9" cy="183.9" r="2.72"/><circle cx="520.6" cy="210.7" r="2.72"/><circle cx="631.3" cy="121.0" r="2.72"/><circle cx="479.7" cy="244.4" r="2.72"/><circle cx="530.9" cy="201.6" r="2.72"/><circle cx="573.2" cy="169.9" r="2.72"/><circle cx="507.3" cy="222.2" r="2.72"/><circle cx="620.5" cy="129.2" r="2.72"/><circle cx="557.7" cy="181.6" r="2.72"/><circle cx="539.3" cy="197.4" r="2.72"/><circle cx="487.6" cy="236.9" r="2.72"/><circle cx="524.2" cy="207.9" r="2.72"/><circle cx="576.1" cy="167.3" r="2.72"/><circle cx="524.2" cy="207.7" r="2.72"/><circle cx="484.6" cy="241.2" r="2.72"/><circle cx="574.4" cy="168.8" r="2.72"/><circle cx="528.1" cy="205.4" r="2.72"/><circle cx="619.2" cy="131.9" r="2.72"/><circle cx="593.2" cy="153.4" r="2.72"/><circle cx="598.2" cy="148.8" r="2.72"/><circle cx="626.6" cy="126.3" r="2.72"/><circle cx="613.1" cy="136.4" r="2.72"/><circle cx="532.3" cy="201.8" r="2.72"/><circle cx="572.6" cy="168.7" r="2.72"/><circle cx="520.5" cy="211.7" r="2.72"/><circle cx="510.9" cy="220.2" r="2.72"/><circle cx="511.6" cy="219.6" r="2.72"/><circle cx="495.7" cy="231.6" r="2.72"/><circle cx="517.2" cy="212.9" r="2.72"/><circle cx="514.7" cy="215.4" r="2.72"/><circle cx="590.0" cy="155.6" r="2.72"/><circle cx="519.2" cy="211.7" r="2.72"/><circle cx="484.8" cy="241.1" r="2.72"/><circle cx="547.8" cy="188.5" r="2.72"/><circle cx="510.8" cy="219.5" r="2.72"/><circle cx="592.8" cy="152.3" r="2.72"/><circle cx="514.2" cy="215.9" r="2.72"/><circle cx="570.6" cy="171.1" r="2.72"/><circle cx="506.6" cy="222.4" r="2.72"/><circle cx="558.0" cy="181.8" r="2.72"/><circle cx="622.7" cy="128.8" r="2.72"/><circle cx="528.0" cy="204.5" r="2.72"/><circle cx="565.6" cy="171.8" r="2.72"/><circle cx="550.7" cy="186.4" r="2.72"/><circle cx="488.8" cy="237.0" r="2.72"/><circle cx="480.5" cy="244.5" r="2.72"/><circle cx="618.5" cy="131.3" r="2.72"/><circle cx="534.2" cy="201.5" r="2.72"/><circle cx="592.3" cy="153.9" r="2.72"/><circle cx="546.3" cy="190.2" r="2.72"/><circle cx="617.8" cy="133.5" r="2.72"/><circle cx="509.8" cy="218.9" r="2.72"/><circle cx="558.3" cy="180.0" r="2.72"/><circle cx="569.1" cy="172.5" r="2.72"/><circle cx="610.3" cy="139.1" r="2.72"/><circle cx="481.9" cy="243.5" r="2.72"/><circle cx="537.9" cy="198.3" r="2.72"/><circle cx="556.8" cy="181.6" r="2.72"/><circle cx="575.9" cy="166.1" r="2.72"/><circle cx="500.8" cy="227.0" r="2.72"/><circle cx="568.3" cy="172.5" r="2.72"/><circle cx="593.5" cy="152.7" r="2.72"/><circle cx="600.2" cy="146.7" r="2.72"/><circle cx="514.7" cy="217.2" r="2.72"/><circle cx="551.1" cy="186.6" r="2.72"/><circle cx="527.1" cy="204.9" r="2.72"/><circle cx="542.1" cy="192.9" r="2.72"/><circle cx="538.0" cy="197.6" r="2.72"/><circle cx="635.8" cy="118.4" r="2.72"/><circle cx="479.2" cy="243.7" r="2.72"/><circle cx="636.2" cy="116.4" r="2.72"/><circle cx="482.6" cy="243.2" r="2.72"/><circle cx="490.1" cy="236.3" r="2.72"/><circle cx="511.6" cy="218.4" r="2.72"/><circle cx="525.2" cy="206.6" r="2.72"/><circle cx="621.1" cy="130.6" r="2.72"/><circle cx="618.3" cy="131.8" r="2.72"/><circle cx="634.0" cy="119.8" r="2.72"/><circle cx="542.5" cy="191.8" r="2.72"/><circle cx="479.7" cy="244.1" r="2.72"/><circle cx="582.1" cy="161.6" r="2.72"/><circle cx="628.1" cy="124.6" r="2.72"/><circle cx="495.0" cy="231.1" r="2.72"/><circle cx="616.1" cy="133.6" r="2.72"/><circle cx="477.3" cy="247.1" r="2.72"/><circle cx="600.0" cy="146.9" r="2.72"/><circle cx="559.9" cy="180.5" r="2.72"/><circle cx="629.6" cy="123.7" r="2.72"/><circle cx="573.6" cy="169.4" r="2.72"/><circle cx="548.1" cy="190.0" r="2.72"/><circle cx="579.9" cy="163.8" r="2.72"/><circle cx="590.3" cy="155.7" r="2.72"/><circle cx="548.1" cy="188.6" r="2.72"/><circle cx="561.5" cy="177.6" r="2.72"/><circle cx="517.6" cy="213.8" r="2.72"/><circle cx="569.1" cy="172.9" r="2.72"/><circle cx="585.5" cy="158.1" r="2.72"/><circle cx="543.4" cy="194.3" r="2.72"/><circle cx="593.4" cy="153.8" r="2.72"/><circle cx="498.2" cy="228.9" r="2.72"/><circle cx="504.8" cy="223.6" r="2.72"/><circle cx="518.6" cy="212.2" r="2.72"/><circle cx="545.5" cy="191.3" r="2.72"/><circle cx="560.6" cy="179.9" r="2.72"/><circle cx="557.6" cy="181.7" r="2.72"/><circle cx="558.0" cy="180.6" r="2.72"/><circle cx="581.6" cy="162.5" r="2.72"/><circle cx="545.9" cy="191.3" r="2.72"/><circle cx="522.3" cy="210.9" r="2.72"/><circle cx="522.9" cy="210.3" r="2.72"/><circle cx="623.0" cy="127.8" r="2.72"/><circle cx="489.8" cy="235.8" r="2.72"/><circle cx="554.7" cy="184.5" r="2.72"/><circle cx="603.5" cy="145.1" r="2.72"/><circle cx="574.4" cy="168.2" r="2.72"/><circle cx="535.3" cy="199.0" r="2.72"/><circle cx="560.1" cy="180.2" r="2.72"/><circle cx="585.8" cy="158.7" r="2.72"/><circle cx="596.0" cy="151.9" r="2.72"/><circle cx="533.2" cy="202.0" r="2.72"/><circle cx="582.7" cy="160.7" r="2.72"/><circle cx="567.5" cy="172.6" r="2.72"/><circle cx="592.9" cy="153.6" r="2.72"/><circle cx="601.5" cy="146.5" r="2.72"/><circle cx="549.8" cy="187.1" r="2.72"/><circle cx="516.8" cy="214.7" r="2.72"/><circle cx="571.8" cy="170.3" r="2.72"/><circle cx="613.0" cy="136.2" r="2.72"/><circle cx="580.4" cy="162.7" r="2.72"/><circle cx="566.9" cy="173.0" r="2.72"/><circle cx="631.6" cy="120.9" r="2.72"/><circle cx="529.0" cy="204.9" r="2.72"/><circle cx="586.9" cy="157.7" r="2.72"/><circle cx="543.0" cy="193.2" r="2.72"/><circle cx="561.5" cy="179.2" r="2.72"/><circle cx="562.7" cy="178.0" r="2.72"/><circle cx="605.2" cy="142.1" r="2.72"/><circle cx="532.1" cy="203.2" r="2.72"/><circle cx="544.0" cy="191.6" r="2.72"/><circle cx="512.5" cy="217.6" r="2.72"/><circle cx="574.5" cy="167.8" r="2.72"/><circle cx="546.3" cy="190.1" r="2.72"/><circle cx="572.6" cy="168.9" r="2.72"/><circle cx="528.0" cy="204.4" r="2.72"/><circle cx="549.3" cy="188.4" r="2.72"/><circle cx="591.0" cy="154.5" r="2.72"/><circle cx="554.8" cy="183.8" r="2.72"/><circle cx="578.7" cy="162.9" r="2.72"/><circle cx="575.8" cy="166.0" r="2.72"/><circle cx="549.5" cy="188.6" r="2.72"/><circle cx="513.5" cy="217.3" r="2.72"/><circle cx="589.4" cy="156.2" r="2.72"/><circle cx="565.1" cy="175.3" r="2.72"/><circle cx="589.3" cy="155.5" r="2.72"/><circle cx="500.0" cy="226.2" r="2.72"/><circle cx="510.6" cy="220.7" r="2.72"/><circle cx="496.1" cy="230.3" r="2.72"/><circle cx="533.8" cy="200.2" r="2.72"/><circle cx="591.1" cy="154.8" r="2.72"/><circle cx="576.9" cy="165.9" r="2.72"/><circle cx="559.0" cy="180.6" r="2.72"/><circle cx="563.9" cy="176.2" r="2.72"/><circle cx="582.7" cy="160.3" r="2.72"/><circle cx="551.0" cy="187.8" r="2.72"/><circle cx="571.8" cy="168.9" r="2.72"/><circle cx="564.2" cy="176.3" r="2.72"/><circle cx="494.8" cy="231.0" r="2.72"/><circle cx="548.5" cy="188.4" r="2.72"/><circle cx="600.5" cy="145.7" r="2.72"/><circle cx="548.2" cy="188.5" r="2.72"/><circle cx="555.7" cy="182.0" r="2.72"/><circle cx="541.9" cy="194.0" r="2.72"/><circle cx="545.5" cy="191.7" r="2.72"/><circle cx="593.5" cy="151.8" r="2.72"/><circle cx="552.0" cy="185.3" r="2.72"/><circle cx="529.5" cy="202.5" r="2.72"/><circle cx="542.9" cy="194.7" r="2.72"/><circle cx="501.3" cy="227.0" r="2.72"/><circle cx="505.6" cy="222.6" r="2.72"/><circle cx="583.7" cy="161.2" r="2.72"/><circle cx="581.1" cy="162.5" r="2.72"/><circle cx="502.8" cy="224.1" r="2.72"/><circle cx="585.4" cy="157.8" r="2.72"/><circle cx="573.7" cy="169.0" r="2.72"/><circle cx="536.6" cy="197.2" r="2.72"/><circle cx="581.9" cy="160.8" r="2.72"/><circle cx="511.5" cy="218.0" r="2.72"/><circle cx="524.1" cy="208.2" r="2.72"/><circle cx="517.1" cy="213.9" r="2.72"/><circle cx="526.8" cy="206.9" r="2.72"/><circle cx="586.2" cy="158.6" r="2.72"/><circle cx="520.2" cy="211.0" r="2.72"/><circle cx="525.7" cy="207.1" r="2.72"/><circle cx="531.6" cy="201.0" r="2.72"/><circle cx="565.8" cy="174.9" r="2.72"/><circle cx="549.9" cy="189.4" r="2.72"/><circle cx="585.7" cy="158.8" r="2.72"/><circle cx="538.8" cy="196.3" r="2.72"/><circle cx="521.5" cy="210.2" r="2.72"/><circle cx="545.0" cy="191.5" r="2.72"/><circle cx="561.0" cy="179.2" r="2.72"/><circle cx="532.1" cy="200.8" r="2.72"/><circle cx="568.2" cy="173.3" r="2.72"/><circle cx="614.0" cy="135.2" r="2.72"/><circle cx="542.5" cy="193.8" r="2.72"/><circle cx="561.1" cy="179.4" r="2.72"/><circle cx="600.1" cy="145.9" r="2.72"/><circle cx="540.4" cy="197.1" r="2.72"/><circle cx="534.4" cy="200.7" r="2.72"/><circle cx="527.0" cy="205.7" r="2.72"/><circle cx="571.5" cy="170.4" r="2.72"/><circle cx="574.9" cy="166.8" r="2.72"/><circle cx="555.1" cy="183.4" r="2.72"/><circle cx="560.8" cy="179.1" r="2.72"/><circle cx="597.5" cy="147.4" r="2.72"/><circle cx="585.3" cy="159.1" r="2.72"/><circle cx="517.6" cy="213.8" r="2.72"/><circle cx="559.1" cy="180.9" r="2.72"/><circle cx="562.5" cy="177.9" r="2.72"/><circle cx="580.8" cy="162.1" r="2.72"/><circle cx="552.6" cy="184.9" r="2.72"/><circle cx="540.0" cy="195.5" r="2.72"/><circle cx="545.6" cy="191.6" r="2.72"/><circle cx="506.2" cy="222.4" r="2.72"/><circle cx="558.4" cy="181.9" r="2.72"/><circle cx="541.4" cy="194.7" r="2.72"/><circle cx="573.1" cy="169.0" r="2.72"/><circle cx="528.5" cy="205.5" r="2.72"/><circle cx="546.1" cy="190.5" r="2.72"/><circle cx="529.9" cy="204.2" r="2.72"/><circle cx="527.3" cy="206.5" r="2.72"/><circle cx="579.9" cy="161.9" r="2.72"/><circle cx="545.1" cy="190.8" r="2.72"/><circle cx="572.2" cy="168.6" r="2.72"/><circle cx="525.6" cy="207.2" r="2.72"/><circle cx="561.8" cy="177.2" r="2.72"/><circle cx="508.5" cy="220.4" r="2.72"/><circle cx="544.6" cy="190.9" r="2.72"/><circle cx="543.9" cy="190.6" r="2.72"/><circle cx="576.2" cy="166.4" r="2.72"/><circle cx="564.2" cy="175.8" r="2.72"/><circle cx="553.6" cy="184.6" r="2.72"/><circle cx="583.8" cy="162.8" r="2.72"/><circle cx="564.5" cy="176.8" r="2.72"/><circle cx="574.8" cy="167.4" r="2.72"/><circle cx="581.6" cy="161.4" r="2.72"/><circle cx="556.8" cy="182.4" r="2.72"/><circle cx="550.0" cy="186.6" r="2.72"/><circle cx="568.5" cy="171.6" r="2.72"/><circle cx="546.3" cy="190.8" r="2.72"/><circle cx="570.2" cy="170.0" r="2.72"/><circle cx="591.7" cy="152.4" r="2.72"/><circle cx="584.1" cy="159.5" r="2.72"/><circle cx="547.3" cy="190.4" r="2.72"/><circle cx="520.4" cy="210.3" r="2.72"/><circle cx="557.0" cy="181.9" r="2.72"/><circle cx="554.9" cy="183.8" r="2.72"/><circle cx="591.6" cy="153.8" r="2.72"/><circle cx="547.2" cy="190.1" r="2.72"/><circle cx="552.4" cy="184.7" r="2.72"/><circle cx="580.5" cy="162.2" r="2.72"/><circle cx="544.4" cy="191.1" r="2.72"/><circle cx="553.9" cy="183.9" r="2.72"/><circle cx="609.6" cy="139.8" r="2.72"/><circle cx="603.0" cy="144.8" r="2.72"/><circle cx="577.3" cy="164.7" r="2.72"/><circle cx="566.6" cy="174.3" r="2.72"/><circle cx="529.7" cy="201.6" r="2.72"/><circle cx="575.2" cy="167.2" r="2.72"/><circle cx="560.3" cy="179.6" r="2.72"/><circle cx="565.2" cy="174.3" r="2.72"/><circle cx="543.2" cy="192.4" r="2.72"/><circle cx="558.2" cy="180.8" r="2.72"/><circle cx="553.1" cy="185.1" r="2.72"/><circle cx="568.0" cy="172.6" r="2.72"/><circle cx="601.1" cy="145.5" r="2.72"/><circle cx="569.4" cy="171.2" r="2.72"/><circle cx="509.2" cy="220.7" r="2.72"/><circle cx="529.7" cy="203.6" r="2.72"/><circle cx="511.4" cy="218.0" r="2.72"/><circle cx="535.0" cy="199.0" r="2.72"/><circle cx="575.2" cy="169.4" r="2.72"/><circle cx="570.5" cy="171.5" r="2.72"/><circle cx="540.7" cy="195.5" r="2.72"/><circle cx="566.5" cy="174.3" r="2.72"/><circle cx="536.0" cy="198.6" r="2.72"/><circle cx="516.3" cy="214.0" r="2.72"/><circle cx="516.7" cy="213.9" r="2.72"/><circle cx="533.0" cy="201.3" r="2.72"/><circle cx="600.9" cy="146.3" r="2.72"/><circle cx="518.7" cy="211.5" r="2.72"/><circle cx="595.6" cy="151.1" r="2.72"/><circle cx="598.1" cy="148.4" r="2.72"/><circle cx="553.1" cy="183.8" r="2.72"/><circle cx="557.1" cy="181.5" r="2.72"/><circle cx="540.3" cy="196.9" r="2.72"/><circle cx="557.8" cy="180.9" r="2.72"/><circle cx="578.1" cy="165.0" r="2.72"/><circle cx="558.8" cy="180.4" r="2.72"/><circle cx="588.2" cy="155.8" r="2.72"/><circle cx="593.8" cy="151.7" r="2.72"/><circle cx="568.7" cy="172.5" r="2.72"/><circle cx="568.2" cy="172.1" r="2.72"/><circle cx="556.6" cy="181.8" r="2.72"/><circle cx="568.8" cy="172.2" r="2.72"/><circle cx="525.3" cy="207.2" r="2.72"/><circle cx="570.5" cy="170.7" r="2.72"/><circle cx="564.6" cy="175.9" r="2.72"/><circle cx="532.8" cy="201.7" r="2.72"/><circle cx="622.5" cy="128.8" r="2.72"/><circle cx="529.5" cy="204.7" r="2.72"/><circle cx="532.6" cy="202.5" r="2.72"/><circle cx="566.7" cy="173.0" r="2.72"/><circle cx="500.8" cy="227.4" r="2.72"/><circle cx="534.9" cy="199.7" r="2.72"/><circle cx="513.1" cy="217.4" r="2.72"/><circle cx="529.7" cy="203.9" r="2.72"/><circle cx="554.5" cy="183.8" r="2.72"/><circle cx="567.9" cy="172.9" r="2.72"/><circle cx="591.3" cy="154.7" r="2.72"/><circle cx="582.4" cy="160.6" r="2.72"/><circle cx="593.7" cy="152.7" r="2.72"/><circle cx="575.9" cy="165.7" r="2.72"/><circle cx="544.5" cy="193.4" r="2.72"/><circle cx="591.6" cy="154.6" r="2.72"/><circle cx="543.9" cy="191.7" r="2.72"/><circle cx="540.1" cy="195.6" r="2.72"/><circle cx="604.0" cy="144.3" r="2.72"/><circle cx="623.9" cy="127.4" r="2.72"/><circle cx="592.0" cy="154.3" r="2.72"/><circle cx="640.7" cy="114.0" r="2.72"/><circle cx="609.7" cy="140.8" r="2.72"/><circle cx="636.5" cy="117.9" r="2.72"/><circle cx="604.9" cy="143.5" r="2.72"/><circle cx="646.9" cy="108.7" r="2.72"/><circle cx="602.7" cy="144.2" r="2.72"/><circle cx="590.4" cy="155.5" r="2.72"/><circle cx="594.1" cy="150.6" r="2.72"/><circle cx="617.5" cy="133.3" r="2.72"/><circle cx="592.3" cy="154.8" r="2.72"/><circle cx="627.9" cy="126.3" r="2.72"/><circle cx="624.1" cy="126.4" r="2.72"/><circle cx="627.6" cy="124.8" r="2.72"/><circle cx="615.1" cy="135.3" r="2.72"/><circle cx="643.1" cy="112.7" r="2.72"/><circle cx="632.8" cy="121.3" r="2.72"/><circle cx="615.8" cy="133.2" r="2.72"/><circle cx="607.0" cy="141.4" r="2.72"/><circle cx="598.7" cy="146.8" r="2.72"/><circle cx="608.9" cy="140.0" r="2.72"/><circle cx="611.2" cy="139.7" r="2.72"/><circle cx="594.8" cy="150.6" r="2.72"/><circle cx="645.5" cy="110.5" r="2.72"/><circle cx="605.5" cy="142.8" r="2.72"/><circle cx="622.4" cy="127.7" r="2.72"/><circle cx="594.0" cy="152.1" r="2.72"/><circle cx="623.1" cy="127.5" r="2.72"/><circle cx="628.8" cy="123.8" r="2.72"/><circle cx="594.8" cy="151.8" r="2.72"/><circle cx="599.8" cy="146.8" r="2.72"/><circle cx="605.8" cy="142.8" r="2.72"/><circle cx="634.2" cy="118.5" r="2.72"/><circle cx="610.2" cy="138.1" r="2.72"/><circle cx="642.6" cy="112.5" r="2.72"/></g>
<g fill="#ffa500" fill-opacity="0.6"><circle cx="467.8" cy="255.6" r="2.72"/><circle cx="685.4" cy="82.3" r="2.72"/><circle cx="667.7" cy="94.0" r="2.72"/><circle cx="658.5" cy="95.3" r="2.72"/><circle cx="641.0" cy="111.4" r="2.72"/><circle cx="649.5" cy="118.4" r="2.72"/><circle cx="641.3" cy="112.1" r="2.72"/><circle cx="630.2" cy="120.6" r="2.72"/><circle cx="626.2" cy="121.9" r="2.72"/><circle cx="620.7" cy="121.6" r="2.72"/><circle cx="602.5" cy="129.0" r="2.72"/><circle cx="610.7" cy="128.5" r="2.72"/><circle cx="609.6" cy="133.8" r="2.72"/><circle cx="576.0" cy="150.3" r="2.72"/><circle cx="593.4" cy="163.2" r="2.72"/><circle cx="601.0" cy="141.7" r="2.72"/><circle cx="595.0" cy="143.5" r="2.72"/><circle cx="590.0" cy="146.0" r="2.72"/><circle cx="600.0" cy="137.0" r="2.72"/><circle cx="605.0" cy="143.0" r="2.72"/><circle cx="598.0" cy="150.0" r="2.72"/><circle cx="585.0" cy="158.0" r="2.72"/><circle cx="566.5" cy="198.5" r="2.72"/><circle cx="556.0" cy="199.0" r="2.72"/><circle cx="543.0" cy="185.5" r="2.72"/><circle cx="567.0" cy="187.0" r="2.72"/><circle cx="569.5" cy="190.0" r="2.72"/><circle cx="481.0" cy="243.0" r="2.72"/><circle cx="483.5" cy="241.4" r="2.72"/><circle cx="486.0" cy="238.7" r="2.72"/><circle cx="488.0" cy="237.6" r="2.72"/><circle cx="490.0" cy="235.6" r="2.72"/><circle cx="492.0" cy="234.7" r="2.72"/><circle cx="494.5" cy="231.5" r="2.72"/><circle cx="497.0" cy="230.1" r="2.72"/><circle cx="499.0" cy="227.5" r="2.72"/><circle cx="501.5" cy="227.2" r="2.72"/><circle cx="504.0" cy="223.2" r="2.72"/><circle cx="506.0" cy="222.7" r="2.72"/><circle cx="508.5" cy="218.8" r="2.72"/><circle cx="511.0" cy="218.0" r="2.72"/><circle cx="513.0" cy="214.4" r="2.72"/><circle cx="515.0" cy="216.8" r="2.72"/><circle cx="557.1" cy="176.5" r="2.72"/><circle cx="556.2" cy="182.6" r="2.72"/><circle cx="539.5" cy="198.3" r="2.72"/><circle cx="562.8" cy="176.8" r="2.72"/><circle cx="540.5" cy="193.5" r="2.72"/><circle cx="557.3" cy="181.0" r="2.72"/><circle cx="526.1" cy="206.9" r="2.72"/><circle cx="547.0" cy="188.3" r="2.72"/><circle cx="553.3" cy="185.2" r="2.72"/><circle cx="529.3" cy="204.4" r="2.72"/><circle cx="536.8" cy="197.5" r="2.72"/><circle cx="534.4" cy="195.9" r="2.72"/><circle cx="559.5" cy="176.0" r="2.72"/><circle cx="530.7" cy="203.4" r="2.72"/><circle cx="553.8" cy="186.6" r="2.72"/><circle cx="575.4" cy="165.4" r="2.72"/><circle cx="552.2" cy="183.4" r="2.72"/><circle cx="513.0" cy="218.8" r="2.72"/><circle cx="547.6" cy="193.7" r="2.72"/><circle cx="565.8" cy="179.6" r="2.72"/><circle cx="539.4" cy="197.7" r="2.72"/><circle cx="567.2" cy="176.9" r="2.72"/><circle cx="557.4" cy="182.8" r="2.72"/><circle cx="553.5" cy="187.1" r="2.72"/><circle cx="540.0" cy="200.4" r="2.72"/><circle cx="535.0" cy="197.9" r="2.72"/><circle cx="540.1" cy="195.4" r="2.72"/><circle cx="546.4" cy="191.8" r="2.72"/><circle cx="555.6" cy="185.6" r="2.72"/><circle cx="553.5" cy="185.7" r="2.72"/><circle cx="539.2" cy="193.2" r="2.72"/><circle cx="546.5" cy="179.8" r="2.72"/><circle cx="552.9" cy="182.7" r="2.72"/><circle cx="512.9" cy="217.2" r="2.72"/><circle cx="529.9" cy="204.1" r="2.72"/><circle cx="529.3" cy="205.1" r="2.72"/><circle cx="541.2" cy="193.5" r="2.72"/><circle cx="539.8" cy="190.9" r="2.72"/><circle cx="540.1" cy="197.3" r="2.72"/><circle cx="527.9" cy="207.0" r="2.72"/><circle cx="558.6" cy="181.2" r="2.72"/><circle cx="550.8" cy="187.7" r="2.72"/><circle cx="512.6" cy="220.6" r="2.72"/><circle cx="545.5" cy="196.3" r="2.72"/><circle cx="522.9" cy="210.3" r="2.72"/><circle cx="579.1" cy="160.6" r="2.72"/><circle cx="536.2" cy="196.1" r="2.72"/><circle cx="537.5" cy="200.4" r="2.72"/><circle cx="547.0" cy="190.7" r="2.72"/><circle cx="541.3" cy="217.1" r="2.72"/><circle cx="544.2" cy="189.4" r="2.72"/><circle cx="576.1" cy="165.0" r="2.72"/><circle cx="549.8" cy="188.4" r="2.72"/><circle cx="561.9" cy="177.4" r="2.72"/><circle cx="567.7" cy="175.0" r="2.72"/><circle cx="526.0" cy="207.6" r="2.72"/><circle cx="578.9" cy="162.8" r="2.72"/><circle cx="559.0" cy="178.0" r="2.72"/><circle cx="564.4" cy="177.7" r="2.72"/><circle cx="528.2" cy="207.7" r="2.72"/><circle cx="561.6" cy="178.9" r="2.72"/><circle cx="553.6" cy="190.5" r="2.72"/><circle cx="534.7" cy="199.6" r="2.72"/><circle cx="590.7" cy="156.2" r="2.72"/><circle cx="556.6" cy="181.6" r="2.72"/><circle cx="540.6" cy="192.1" r="2.72"/><circle cx="549.2" cy="186.6" r="2.72"/><circle cx="563.5" cy="188.5" r="2.72"/><circle cx="567.8" cy="171.5" r="2.72"/><circle cx="556.9" cy="183.0" r="2.72"/><circle cx="569.6" cy="169.9" r="2.72"/><circle cx="574.6" cy="162.2" r="2.72"/><circle cx="520.8" cy="210.7" r="2.72"/><circle cx="535.7" cy="196.5" r="2.72"/><circle cx="526.7" cy="209.5" r="2.72"/><circle cx="547.3" cy="194.1" r="2.72"/><circle cx="574.1" cy="163.5" r="2.72"/><circle cx="558.4" cy="179.9" r="2.72"/><circle cx="524.6" cy="206.3" r="2.72"/><circle cx="539.6" cy="197.7" r="2.72"/><circle cx="565.8" cy="175.0" r="2.72"/><circle cx="534.8" cy="204.1" r="2.72"/><circle cx="543.5" cy="186.7" r="2.72"/><circle cx="551.5" cy="185.5" r="2.72"/><circle cx="509.2" cy="221.9" r="2.72"/><circle cx="560.9" cy="180.7" r="2.72"/><circle cx="552.2" cy="182.5" r="2.72"/><circle cx="556.7" cy="177.1" r="2.72"/><circle cx="525.9" cy="207.9" r="2.72"/><circle cx="530.1" cy="206.8" r="2.72"/><circle cx="533.5" cy="201.5" r="2.72"/><circle cx="550.4" cy="188.4" r="2.72"/><circle cx="546.8" cy="187.7" r="2.72"/><circle cx="547.9" cy="199.1" r="2.72"/><circle cx="581.0" cy="166.7" r="2.72"/><circle cx="571.4" cy="169.7" r="2.72"/><circle cx="531.1" cy="202.3" r="2.72"/><circle cx="532.4" cy="196.8" r="2.72"/><circle cx="579.5" cy="161.0" r="2.72"/><circle cx="539.1" cy="189.6" r="2.72"/><circle cx="572.8" cy="165.1" r="2.72"/><circle cx="577.2" cy="179.2" r="2.72"/><circle cx="534.6" cy="205.1" r="2.72"/><circle cx="540.0" cy="194.7" r="2.72"/><circle cx="547.0" cy="189.8" r="2.72"/><circle cx="528.2" cy="205.1" r="2.72"/><circle cx="526.0" cy="200.8" r="2.72"/><circle cx="537.4" cy="196.6" r="2.72"/><circle cx="562.4" cy="166.8" r="2.72"/><circle cx="536.5" cy="197.7" r="2.72"/><circle cx="541.3" cy="194.7" r="2.72"/><circle cx="536.1" cy="201.7" r="2.72"/><circle cx="518.3" cy="213.7" r="2.72"/><circle cx="574.9" cy="170.4" r="2.72"/><circle cx="498.8" cy="226.8" r="2.72"/><circle cx="532.4" cy="204.8" r="2.72"/><circle cx="556.5" cy="181.6" r="2.72"/><circle cx="517.6" cy="212.9" r="2.72"/><circle cx="557.4" cy="178.9" r="2.72"/><circle cx="570.3" cy="179.5" r="2.72"/><circle cx="528.3" cy="201.6" r="2.72"/><circle cx="549.5" cy="190.9" r="2.72"/><circle cx="523.3" cy="211.5" r="2.72"/><circle cx="555.5" cy="180.8" r="2.72"/><circle cx="547.1" cy="192.3" r="2.72"/><circle cx="549.7" cy="189.8" r="2.72"/><circle cx="572.6" cy="170.4" r="2.72"/><circle cx="554.8" cy="183.0" r="2.72"/><circle cx="572.1" cy="166.0" r="2.72"/><circle cx="558.0" cy="183.9" r="2.72"/><circle cx="521.5" cy="212.8" r="2.72"/><circle cx="550.6" cy="178.7" r="2.72"/><circle cx="555.1" cy="184.3" r="2.72"/><circle cx="516.6" cy="212.8" r="2.72"/><circle cx="571.9" cy="169.7" r="2.72"/><circle cx="546.7" cy="194.4" r="2.72"/><circle cx="552.7" cy="182.8" r="2.72"/><circle cx="527.6" cy="207.3" r="2.72"/><circle cx="546.8" cy="190.8" r="2.72"/><circle cx="551.3" cy="187.1" r="2.72"/><circle cx="538.9" cy="196.3" r="2.72"/><circle cx="547.0" cy="190.5" r="2.72"/><circle cx="503.2" cy="224.5" r="2.72"/><circle cx="572.5" cy="170.5" r="2.72"/><circle cx="523.2" cy="212.2" r="2.72"/><circle cx="502.0" cy="225.2" r="2.72"/><circle cx="526.3" cy="205.4" r="2.72"/><circle cx="528.8" cy="202.7" r="2.72"/><circle cx="556.2" cy="180.2" r="2.72"/><circle cx="527.2" cy="205.8" r="2.72"/><circle cx="527.8" cy="206.0" r="2.72"/><circle cx="520.0" cy="210.9" r="2.72"/><circle cx="574.9" cy="165.0" r="2.72"/><circle cx="596.3" cy="149.6" r="2.72"/><circle cx="598.4" cy="146.4" r="2.72"/><circle cx="535.7" cy="200.9" r="2.72"/><circle cx="506.6" cy="222.5" r="2.72"/><circle cx="531.9" cy="202.8" r="2.72"/><circle cx="507.0" cy="224.0" r="2.72"/><circle cx="598.8" cy="141.8" r="2.72"/><circle cx="530.7" cy="204.4" r="2.72"/><circle cx="584.8" cy="156.4" r="2.72"/><circle cx="524.6" cy="205.9" r="2.72"/><circle cx="596.0" cy="148.4" r="2.72"/><circle cx="548.9" cy="186.8" r="2.72"/><circle cx="583.4" cy="165.7" r="2.72"/><circle cx="559.9" cy="181.0" r="2.72"/><circle cx="576.6" cy="171.7" r="2.72"/><circle cx="507.3" cy="224.0" r="2.72"/><circle cx="508.8" cy="223.6" r="2.72"/><circle cx="535.7" cy="199.4" r="2.72"/><circle cx="587.8" cy="157.8" r="2.72"/><circle cx="590.9" cy="151.5" r="2.72"/><circle cx="571.1" cy="170.0" r="2.72"/><circle cx="559.9" cy="181.7" r="2.72"/><circle cx="504.9" cy="226.0" r="2.72"/><circle cx="592.8" cy="154.3" r="2.72"/><circle cx="566.0" cy="173.6" r="2.72"/><circle cx="561.6" cy="175.9" r="2.72"/><circle cx="584.2" cy="158.7" r="2.72"/><circle cx="523.6" cy="209.1" r="2.72"/><circle cx="562.0" cy="176.4" r="2.72"/><circle cx="568.3" cy="174.7" r="2.72"/><circle cx="575.6" cy="165.4" r="2.72"/><circle cx="509.5" cy="219.1" r="2.72"/><circle cx="572.8" cy="165.5" r="2.72"/><circle cx="590.3" cy="156.9" r="2.72"/><circle cx="562.8" cy="175.3" r="2.72"/><circle cx="517.0" cy="212.9" r="2.72"/><circle cx="591.9" cy="154.8" r="2.72"/><circle cx="510.2" cy="219.9" r="2.72"/><circle cx="523.0" cy="210.2" r="2.72"/><circle cx="585.5" cy="158.8" r="2.72"/><circle cx="558.9" cy="177.4" r="2.72"/><circle cx="533.6" cy="203.0" r="2.72"/><circle cx="580.3" cy="161.8" r="2.72"/><circle cx="564.7" cy="172.6" r="2.72"/><circle cx="511.8" cy="215.2" r="2.72"/><circle cx="523.2" cy="207.9" r="2.72"/><circle cx="581.1" cy="164.7" r="2.72"/><circle cx="581.1" cy="162.4" r="2.72"/><circle cx="507.4" cy="222.3" r="2.72"/><circle cx="552.2" cy="191.2" r="2.72"/><circle cx="571.3" cy="165.3" r="2.72"/><circle cx="532.5" cy="200.4" r="2.72"/><circle cx="506.3" cy="222.8" r="2.72"/><circle cx="541.7" cy="190.8" r="2.72"/><circle cx="593.5" cy="154.5" r="2.72"/><circle cx="573.0" cy="159.4" r="2.72"/><circle cx="521.3" cy="210.9" r="2.72"/></g>
<g fill="#008000" fill-opacity="0.6"><circle cx="476.4" cy="246.9" r="2.72"/><circle cx="479.0" cy="245.0" r="2.72"/><circle cx="681.0" cy="80.6" r="2.72"/><circle cx="682.4" cy="89.0" r="2.72"/><circle cx="636.9" cy="101.9" r="2.72"/><circle cx="648.7" cy="101.9" r="2.72"/><circle cx="647.0" cy="105.9" r="2.72"/><circle cx="609.3" cy="119.2" r="2.72"/><circle cx="611.2" cy="123.2" r="2.72"/><circle cx="633.0" cy="139.0" r="2.72"/><circle cx="594.3" cy="140.6" r="2.72"/><circle cx="614.0" cy="135.8" r="2.72"/><circle cx="535.6" cy="152.2" r="2.72"/><circle cx="599.7" cy="157.2" r="2.72"/><circle cx="537.5" cy="187.5" r="2.72"/><circle cx="568.0" cy="191.5" r="2.72"/><circle cx="559.5" cy="194.5" r="2.72"/><circle cx="552.5" cy="195.0" r="2.72"/><circle cx="548.0" cy="200.5" r="2.72"/><circle cx="577.0" cy="176.5" r="2.72"/><circle cx="575.0" cy="174.0" r="2.72"/><circle cx="561.5" cy="172.5" r="2.72"/><circle cx="603.0" cy="139.0" r="2.72"/><circle cx="600.0" cy="145.0" r="2.72"/><circle cx="606.0" cy="149.0" r="2.72"/><circle cx="602.0" cy="152.0" r="2.72"/><circle cx="596.0" cy="148.0" r="2.72"/><circle cx="487.0" cy="237.9" r="2.72"/><circle cx="501.5" cy="223.2" r="2.72"/><circle cx="500.5" cy="226.5" r="2.72"/><circle cx="503.0" cy="223.5" r="2.72"/><circle cx="506.0" cy="222.0" r="2.72"/><circle cx="509.0" cy="220.1" r="2.72"/><circle cx="546.9" cy="186.1" r="2.72"/><circle cx="551.4" cy="186.8" r="2.72"/><circle cx="551.8" cy="184.5" r="2.72"/><circle cx="525.4" cy="207.4" r="2.72"/><circle cx="543.5" cy="189.7" r="2.72"/><circle cx="516.6" cy="216.7" r="2.72"/><circle cx="560.6" cy="179.7" r="2.72"/><circle cx="528.5" cy="204.6" r="2.72"/><circle cx="540.9" cy="199.6" r="2.72"/><circle cx="538.0" cy="195.2" r="2.72"/><circle cx="535.8" cy="201.0" r="2.72"/><circle cx="527.9" cy="203.6" r="2.72"/><circle cx="516.2" cy="214.3" r="2.72"/><circle cx="574.2" cy="149.6" r="2.72"/><circle cx="549.7" cy="187.0" r="2.72"/><circle cx="549.9" cy="186.7" r="2.72"/><circle cx="580.3" cy="170.3" r="2.72"/><circle cx="543.8" cy="190.0" r="2.72"/><circle cx="554.6" cy="182.9" r="2.72"/><circle cx="545.8" cy="193.1" r="2.72"/><circle cx="565.2" cy="175.5" r="2.72"/><circle cx="553.8" cy="183.8" r="2.72"/><circle cx="550.7" cy="184.4" r="2.72"/><circle cx="541.3" cy="199.3" r="2.72"/><circle cx="550.2" cy="188.3" r="2.72"/><circle cx="564.8" cy="174.9" r="2.72"/><circle cx="511.1" cy="216.4" r="2.72"/><circle cx="543.4" cy="193.7" r="2.72"/><circle cx="538.6" cy="193.7" r="2.72"/><circle cx="540.6" cy="199.3" r="2.72"/><circle cx="512.8" cy="218.7" r="2.72"/><circle cx="557.7" cy="175.3" r="2.72"/><circle cx="531.5" cy="205.5" r="2.72"/><circle cx="541.8" cy="194.0" r="2.72"/><circle cx="537.2" cy="197.4" r="2.72"/><circle cx="517.9" cy="212.9" r="2.72"/><circle cx="538.1" cy="199.4" r="2.72"/><circle cx="515.0" cy="215.2" r="2.72"/><circle cx="529.9" cy="205.1" r="2.72"/><circle cx="540.3" cy="195.6" r="2.72"/><circle cx="545.5" cy="192.5" r="2.72"/><circle cx="546.5" cy="191.1" r="2.72"/><circle cx="543.3" cy="196.1" r="2.72"/><circle cx="581.0" cy="161.4" r="2.72"/><circle cx="552.8" cy="187.0" r="2.72"/><circle cx="525.3" cy="206.9" r="2.72"/><circle cx="535.4" cy="199.3" r="2.72"/><circle cx="534.7" cy="198.7" r="2.72"/><circle cx="542.6" cy="195.5" r="2.72"/><circle cx="535.6" cy="198.6" r="2.72"/><circle cx="531.4" cy="202.3" r="2.72"/><circle cx="572.9" cy="169.1" r="2.72"/><circle cx="546.3" cy="193.0" r="2.72"/><circle cx="540.0" cy="194.7" r="2.72"/><circle cx="541.4" cy="197.7" r="2.72"/><circle cx="542.0" cy="192.8" r="2.72"/><circle cx="568.6" cy="171.4" r="2.72"/><circle cx="553.5" cy="185.9" r="2.72"/><circle cx="564.2" cy="181.3" r="2.72"/><circle cx="551.0" cy="186.0" r="2.72"/><circle cx="563.1" cy="179.0" r="2.72"/><circle cx="578.3" cy="166.3" r="2.72"/><circle cx="546.1" cy="193.0" r="2.72"/><circle cx="517.1" cy="213.3" r="2.72"/><circle cx="555.3" cy="186.9" r="2.72"/><circle cx="535.7" cy="198.7" r="2.72"/><circle cx="515.9" cy="215.9" r="2.72"/><circle cx="535.3" cy="206.5" r="2.72"/><circle cx="563.1" cy="187.5" r="2.72"/><circle cx="565.5" cy="180.3" r="2.72"/><circle cx="557.5" cy="180.8" r="2.72"/><circle cx="528.2" cy="206.1" r="2.72"/><circle cx="587.3" cy="162.6" r="2.72"/><circle cx="526.2" cy="201.1" r="2.72"/><circle cx="544.3" cy="191.6" r="2.72"/><circle cx="521.7" cy="210.0" r="2.72"/><circle cx="567.4" cy="173.0" r="2.72"/><circle cx="553.0" cy="186.1" r="2.72"/><circle cx="560.3" cy="183.5" r="2.72"/><circle cx="547.1" cy="189.2" r="2.72"/><circle cx="544.5" cy="192.7" r="2.72"/><circle cx="548.5" cy="188.3" r="2.72"/><circle cx="514.3" cy="214.9" r="2.72"/><circle cx="562.1" cy="180.2" r="2.72"/><circle cx="560.8" cy="180.6" r="2.72"/><circle cx="539.1" cy="197.2" r="2.72"/><circle cx="545.4" cy="188.5" r="2.72"/><circle cx="550.6" cy="189.8" r="2.72"/><circle cx="571.7" cy="171.9" r="2.72"/><circle cx="552.8" cy="187.6" r="2.72"/><circle cx="546.4" cy="189.9" r="2.72"/><circle cx="537.2" cy="202.2" r="2.72"/><circle cx="520.8" cy="212.3" r="2.72"/><circle cx="535.8" cy="193.5" r="2.72"/><circle cx="546.9" cy="190.4" r="2.72"/><circle cx="541.5" cy="193.7" r="2.72"/><circle cx="547.0" cy="192.1" r="2.72"/><circle cx="558.1" cy="182.3" r="2.72"/><circle cx="552.9" cy="183.5" r="2.72"/><circle cx="550.3" cy="189.9" r="2.72"/><circle cx="556.6" cy="181.7" r="2.72"/><circle cx="548.8" cy="188.2" r="2.72"/><circle cx="545.2" cy="185.1" r="2.72"/><circle cx="553.5" cy="181.1" r="2.72"/><circle cx="517.1" cy="210.8" r="2.72"/><circle cx="566.5" cy="175.3" r="2.72"/><circle cx="524.4" cy="207.2" r="2.72"/><circle cx="559.6" cy="184.0" r="2.72"/><circle cx="546.0" cy="192.0" r="2.72"/><circle cx="564.1" cy="174.5" r="2.72"/><circle cx="546.4" cy="198.4" r="2.72"/><circle cx="530.1" cy="200.8" r="2.72"/><circle cx="563.6" cy="173.9" r="2.72"/><circle cx="548.9" cy="187.2" r="2.72"/><circle cx="547.8" cy="186.7" r="2.72"/><circle cx="547.2" cy="193.2" r="2.72"/><circle cx="562.4" cy="175.5" r="2.72"/><circle cx="559.4" cy="181.6" r="2.72"/><circle cx="549.6" cy="190.3" r="2.72"/><circle cx="520.1" cy="215.3" r="2.72"/><circle cx="539.1" cy="194.9" r="2.72"/><circle cx="547.6" cy="194.4" r="2.72"/><circle cx="575.6" cy="160.8" r="2.72"/><circle cx="552.2" cy="184.9" r="2.72"/><circle cx="544.3" cy="193.9" r="2.72"/><circle cx="565.7" cy="179.1" r="2.72"/><circle cx="544.0" cy="191.7" r="2.72"/><circle cx="545.4" cy="193.3" r="2.72"/><circle cx="548.5" cy="192.0" r="2.72"/><circle cx="521.1" cy="207.5" r="2.72"/><circle cx="561.8" cy="179.2" r="2.72"/><circle cx="552.9" cy="186.0" r="2.72"/><circle cx="541.2" cy="195.4" r="2.72"/><circle cx="527.0" cy="203.6" r="2.72"/><circle cx="549.4" cy="187.6" r="2.72"/><circle cx="569.1" cy="171.9" r="2.72"/><circle cx="535.3" cy="201.9" r="2.72"/><circle cx="528.3" cy="202.1" r="2.72"/><circle cx="552.9" cy="179.9" r="2.72"/><circle cx="539.5" cy="198.0" r="2.72"/><circle cx="550.5" cy="189.9" r="2.72"/><circle cx="567.6" cy="169.8" r="2.72"/><circle cx="534.6" cy="197.7" r="2.72"/><circle cx="543.0" cy="191.2" r="2.72"/><circle cx="558.9" cy="179.6" r="2.72"/><circle cx="535.3" cy="199.0" r="2.72"/><circle cx="521.1" cy="212.0" r="2.72"/><circle cx="589.8" cy="148.2" r="2.72"/><circle cx="519.0" cy="211.2" r="2.72"/><circle cx="596.8" cy="147.6" r="2.72"/><circle cx="584.0" cy="157.7" r="2.72"/><circle cx="548.2" cy="186.6" r="2.72"/><circle cx="585.5" cy="159.9" r="2.72"/><circle cx="513.8" cy="215.3" r="2.72"/><circle cx="558.6" cy="179.9" r="2.72"/><circle cx="539.8" cy="196.3" r="2.72"/><circle cx="535.1" cy="201.8" r="2.72"/><circle cx="588.5" cy="155.5" r="2.72"/><circle cx="511.4" cy="219.0" r="2.72"/><circle cx="585.6" cy="157.2" r="2.72"/><circle cx="515.1" cy="217.3" r="2.72"/><circle cx="569.0" cy="164.9" r="2.72"/><circle cx="533.7" cy="197.3" r="2.72"/><circle cx="555.4" cy="190.2" r="2.72"/><circle cx="591.3" cy="153.5" r="2.72"/><circle cx="579.8" cy="160.4" r="2.72"/><circle cx="516.9" cy="216.0" r="2.72"/><circle cx="535.5" cy="192.9" r="2.72"/><circle cx="551.9" cy="187.2" r="2.72"/><circle cx="572.5" cy="171.2" r="2.72"/><circle cx="508.5" cy="219.1" r="2.72"/><circle cx="585.8" cy="162.9" r="2.72"/><circle cx="583.8" cy="158.8" r="2.72"/><circle cx="594.1" cy="150.5" r="2.72"/><circle cx="526.2" cy="207.3" r="2.72"/><circle cx="527.2" cy="205.0" r="2.72"/><circle cx="583.0" cy="157.0" r="2.72"/><circle cx="554.3" cy="185.6" r="2.72"/><circle cx="530.1" cy="205.4" r="2.72"/><circle cx="509.5" cy="219.9" r="2.72"/><circle cx="527.5" cy="206.3" r="2.72"/><circle cx="568.8" cy="179.8" r="2.72"/><circle cx="574.0" cy="165.1" r="2.72"/><circle cx="539.9" cy="193.4" r="2.72"/><circle cx="590.6" cy="155.3" r="2.72"/><circle cx="553.9" cy="185.8" r="2.72"/><circle cx="554.6" cy="183.8" r="2.72"/><circle cx="543.5" cy="197.7" r="2.72"/><circle cx="544.3" cy="194.7" r="2.72"/><circle cx="540.3" cy="195.5" r="2.72"/><circle cx="582.2" cy="160.5" r="2.72"/><circle cx="547.6" cy="189.1" r="2.72"/><circle cx="528.8" cy="202.9" r="2.72"/><circle cx="547.2" cy="185.4" r="2.72"/><circle cx="591.3" cy="148.2" r="2.72"/><circle cx="565.5" cy="175.5" r="2.72"/><circle cx="517.5" cy="212.0" r="2.72"/><circle cx="545.7" cy="198.9" r="2.72"/><circle cx="550.0" cy="184.8" r="2.72"/><circle cx="545.8" cy="188.1" r="2.72"/><circle cx="597.9" cy="149.7" r="2.72"/><circle cx="595.4" cy="160.0" r="2.72"/><circle cx="550.6" cy="185.2" r="2.72"/><circle cx="575.4" cy="164.3" r="2.72"/><circle cx="562.2" cy="174.3" r="2.72"/><circle cx="556.7" cy="183.5" r="2.72"/><circle cx="560.1" cy="182.4" r="2.72"/><circle cx="547.9" cy="190.6" r="2.72"/><circle cx="582.9" cy="162.1" r="2.72"/><circle cx="565.2" cy="175.0" r="2.72"/><circle cx="583.5" cy="158.3" r="2.72"/></g>
<path d="M442.00 275.5v-4.3M442.0 275.50h4.3M497.23 275.5v-4.3M442.0 230.83h4.3M552.47 275.5v-4.3M442.0 186.17h4.3M607.70 275.5v-4.3M442.0 141.50h4.3M662.93 275.5v-4.3M442.0 96.83h4.3M718.17 275.5v-4.3M442.0 52.17h4.3M773.40 275.5v-4.3M442.0 7.50h4.3" stroke="#3a3a3a" stroke-width="1.1" fill="none"/>
<rect x="442.0" y="7.5" width="331.4" height="268.0" fill="none" stroke="#3a3a3a" stroke-width="1.2"/>
<text transform="translate(442.80,286.90) scale(1.0,1)" text-anchor="middle" font-family="'DejaVu Sans', 'Liberation Sans', sans-serif" font-size="12.0" fill="#000" stroke="#000" stroke-width="0.2">10<tspan dx="0.5" dy="-4.4" font-size="8.40">−1</tspan></text>
<text transform="translate(441.00,280.40) scale(1.0,1)" text-anchor="end" font-family="'DejaVu Sans', 'Liberation Sans', sans-serif" font-size="12.0" fill="#000" stroke="#000" stroke-width="0.2">10<tspan dx="0.5" dy="-4.4" font-size="8.40">−1</tspan></text>
<text transform="translate(498.03,286.90) scale(1.0,1)" text-anchor="middle" font-family="'DejaVu Sans', 'Liberation Sans', sans-serif" font-size="12.0" fill="#000" stroke="#000" stroke-width="0.2">10<tspan dx="0.5" dy="-4.4" font-size="8.40">0</tspan></text>
<text transform="translate(441.00,235.73) scale(1.0,1)" text-anchor="end" font-family="'DejaVu Sans', 'Liberation Sans', sans-serif" font-size="12.0" fill="#000" stroke="#000" stroke-width="0.2">10<tspan dx="0.5" dy="-4.4" font-size="8.40">0</tspan></text>
<text transform="translate(553.27,286.90) scale(1.0,1)" text-anchor="middle" font-family="'DejaVu Sans', 'Liberation Sans', sans-serif" font-size="12.0" fill="#000" stroke="#000" stroke-width="0.2">10<tspan dx="0.5" dy="-4.4" font-size="8.40">1</tspan></text>
<text transform="translate(441.00,191.07) scale(1.0,1)" text-anchor="end" font-family="'DejaVu Sans', 'Liberation Sans', sans-serif" font-size="12.0" fill="#000" stroke="#000" stroke-width="0.2">10<tspan dx="0.5" dy="-4.4" font-size="8.40">1</tspan></text>
<text transform="translate(608.50,286.90) scale(1.0,1)" text-anchor="middle" font-family="'DejaVu Sans', 'Liberation Sans', sans-serif" font-size="12.0" fill="#000" stroke="#000" stroke-width="0.2">10<tspan dx="0.5" dy="-4.4" font-size="8.40">2</tspan></text>
<text transform="translate(441.00,146.40) scale(1.0,1)" text-anchor="end" font-family="'DejaVu Sans', 'Liberation Sans', sans-serif" font-size="12.0" fill="#000" stroke="#000" stroke-width="0.2">10<tspan dx="0.5" dy="-4.4" font-size="8.40">2</tspan></text>
<text transform="translate(663.73,286.90) scale(1.0,1)" text-anchor="middle" font-family="'DejaVu Sans', 'Liberation Sans', sans-serif" font-size="12.0" fill="#000" stroke="#000" stroke-width="0.2">10<tspan dx="0.5" dy="-4.4" font-size="8.40">3</tspan></text>
<text transform="translate(441.00,101.73) scale(1.0,1)" text-anchor="end" font-family="'DejaVu Sans', 'Liberation Sans', sans-serif" font-size="12.0" fill="#000" stroke="#000" stroke-width="0.2">10<tspan dx="0.5" dy="-4.4" font-size="8.40">3</tspan></text>
<text transform="translate(718.97,286.90) scale(1.0,1)" text-anchor="middle" font-family="'DejaVu Sans', 'Liberation Sans', sans-serif" font-size="12.0" fill="#000" stroke="#000" stroke-width="0.2">10<tspan dx="0.5" dy="-4.4" font-size="8.40">4</tspan></text>
<text transform="translate(441.00,57.07) scale(1.0,1)" text-anchor="end" font-family="'DejaVu Sans', 'Liberation Sans', sans-serif" font-size="12.0" fill="#000" stroke="#000" stroke-width="0.2">10<tspan dx="0.5" dy="-4.4" font-size="8.40">4</tspan></text>
<text transform="translate(774.20,286.90) scale(1.0,1)" text-anchor="middle" font-family="'DejaVu Sans', 'Liberation Sans', sans-serif" font-size="12.0" fill="#000" stroke="#000" stroke-width="0.2">10<tspan dx="0.5" dy="-4.4" font-size="8.40">5</tspan></text>
<text transform="translate(441.00,12.40) scale(1.0,1)" text-anchor="end" font-family="'DejaVu Sans', 'Liberation Sans', sans-serif" font-size="12.0" fill="#000" stroke="#000" stroke-width="0.2">10<tspan dx="0.5" dy="-4.4" font-size="8.40">5</tspan></text>
<rect x="43.0" y="13.0" width="161.3" height="62.0" rx="1.6" ry="1.6" fill="#fff" fill-opacity="0.8" stroke="#e8e8e8" stroke-opacity="0.8" stroke-width="1"/><circle cx="59.7" cy="25.6" r="2.72" fill="#0000ff" fill-opacity="0.6"/><text transform="translate(81.00,28.95) scale(1.008,1)" font-family="'Liberation Sans', sans-serif" font-weight="bold" font-size="11.9" fill="#000">Training (<tspan font-family="'DejaVu Sans', sans-serif" font-style="italic" font-weight="normal" font-size="11.6">R</tspan><tspan dx="1.5" dy="-4.2" font-family="'DejaVu Sans', sans-serif" font-weight="normal" font-size="8.3">2</tspan><tspan dy="4.2"> = 1.00)</tspan></text><circle cx="59.7" cy="45.1" r="2.72" fill="#ffa500" fill-opacity="0.6"/><text transform="translate(81.00,48.45) scale(1.008,1)" font-family="'Liberation Sans', sans-serif" font-weight="bold" font-size="11.9" fill="#000">Validation (<tspan font-family="'DejaVu Sans', sans-serif" font-style="italic" font-weight="normal" font-size="11.6">R</tspan><tspan dx="1.5" dy="-4.2" font-family="'DejaVu Sans', sans-serif" font-weight="normal" font-size="8.3">2</tspan><tspan dy="4.2"> = 0.99)</tspan></text><circle cx="59.7" cy="64.6" r="2.72" fill="#008000" fill-opacity="0.6"/><text transform="translate(81.00,67.95) scale(1.008,1)" font-family="'Liberation Sans', sans-serif" font-weight="bold" font-size="11.9" fill="#000">Test (<tspan font-family="'DejaVu Sans', sans-serif" font-style="italic" font-weight="normal" font-size="11.6">R</tspan><tspan dx="1.5" dy="-4.2" font-family="'DejaVu Sans', sans-serif" font-weight="normal" font-size="8.3">2</tspan><tspan dy="4.2"> = 0.99)</tspan></text>
<rect x="447.6" y="13.0" width="161.3" height="62.0" rx="1.6" ry="1.6" fill="#fff" fill-opacity="0.8" stroke="#e8e8e8" stroke-opacity="0.8" stroke-width="1"/><circle cx="464.3" cy="25.6" r="2.72" fill="#0000ff" fill-opacity="0.6"/><text transform="translate(485.60,28.95) scale(1.008,1)" font-family="'Liberation Sans', sans-serif" font-weight="bold" font-size="11.9" fill="#000">Training (<tspan font-family="'DejaVu Sans', sans-serif" font-style="italic" font-weight="normal" font-size="11.6">R</tspan><tspan dx="1.5" dy="-4.2" font-family="'DejaVu Sans', sans-serif" font-weight="normal" font-size="8.3">2</tspan><tspan dy="4.2"> = 1.00)</tspan></text><circle cx="464.3" cy="45.1" r="2.72" fill="#ffa500" fill-opacity="0.6"/><text transform="translate(485.60,48.45) scale(1.008,1)" font-family="'Liberation Sans', sans-serif" font-weight="bold" font-size="11.9" fill="#000">Validation (<tspan font-family="'DejaVu Sans', sans-serif" font-style="italic" font-weight="normal" font-size="11.6">R</tspan><tspan dx="1.5" dy="-4.2" font-family="'DejaVu Sans', sans-serif" font-weight="normal" font-size="8.3">2</tspan><tspan dy="4.2"> = 0.98)</tspan></text><circle cx="464.3" cy="64.6" r="2.72" fill="#008000" fill-opacity="0.6"/><text transform="translate(485.60,67.95) scale(1.008,1)" font-family="'Liberation Sans', sans-serif" font-weight="bold" font-size="11.9" fill="#000">Test (<tspan font-family="'DejaVu Sans', sans-serif" font-style="italic" font-weight="normal" font-size="11.6">R</tspan><tspan dx="1.5" dy="-4.2" font-family="'DejaVu Sans', sans-serif" font-weight="normal" font-size="8.3">2</tspan><tspan dy="4.2"> = 0.95)</tspan></text>
<text transform="translate(202.7,300.7) scale(1.008,1)" text-anchor="middle" font-family="'Liberation Sans', sans-serif" font-size="13.8" fill="#000">Actual Density (g/cc)</text>
<text transform="translate(607.6,300.7) scale(1.008,1)" text-anchor="middle" font-family="'Liberation Sans', sans-serif" font-size="13.8" fill="#000">Actual Viscosity (mPa·s)</text>
<text transform="translate(12.2,141.5) rotate(-90) scale(1.006,1)" text-anchor="middle" font-family="'Liberation Sans', sans-serif" font-size="13.8" fill="#000">Predicted Density (g/cc)</text>
<text transform="translate(409.3,141.5) rotate(-90) scale(1.006,1)" text-anchor="middle" font-family="'Liberation Sans', sans-serif" font-size="13.8" fill="#000">Predicted Viscosity (mPa·s)</text>
<text transform="translate(207.1,323.9) scale(1.01,1)" text-anchor="middle" font-family="'Liberation Sans', sans-serif" font-weight="bold" font-size="19.7" fill="#000">(a)</text>
<text transform="translate(627,323.9) scale(1.01,1)" text-anchor="middle" font-family="'Liberation Sans', sans-serif" font-weight="bold" font-size="19.7" fill="#000">(b)</text>
</svg>
</body></html>
